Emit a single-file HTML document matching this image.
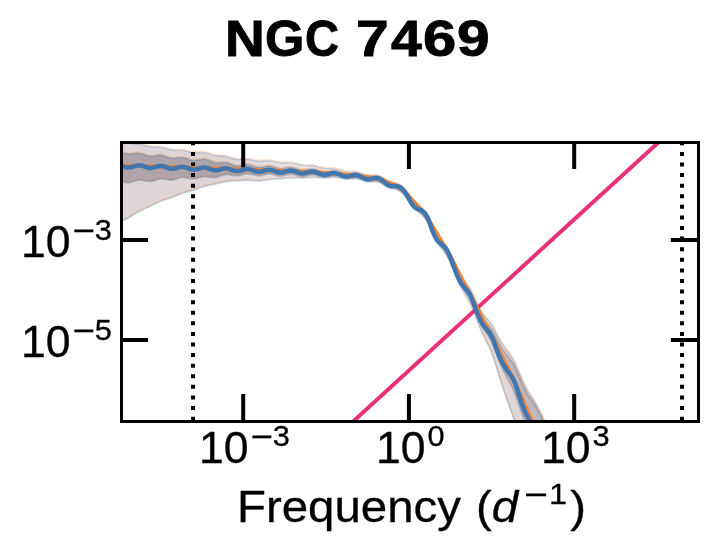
<!DOCTYPE html>
<html lang="en">
<head>
<meta charset="utf-8">
<title>NGC 7469</title>
<style>
html,body{margin:0;padding:0;background:#fff;}
body{width:717px;height:553px;position:relative;overflow:hidden;font-family:"Liberation Sans",sans-serif;color:#000;}
svg{position:absolute;left:0;top:0;display:block;}
.t{position:absolute;white-space:nowrap;line-height:1;transform-origin:0 0;will-change:transform;}
.title{left:0;top:13.5px;width:717px;height:51px;font-size:50.4px;font-weight:bold;-webkit-text-stroke:0.9px #000;}
.title span{position:absolute;top:0;transform-origin:0 0;}
.tick{font-size:43.7px;transform:scaleX(1.02);-webkit-text-stroke:0.3px #000;}
sup{font-size:30.1px;position:relative;vertical-align:baseline;line-height:0;}
.tick sup{top:-17px;margin-left:2px;}
.tick .m{margin-right:4.2px;}
.m{display:inline-block;position:relative;top:0.9px;transform:scaleX(1.22);transform-origin:0 50%;margin-right:5px;-webkit-text-stroke:0.6px #000;}
.xl{left:237.2px;top:485.1px;font-size:43.7px;transform:scaleX(1.085);word-spacing:1.7px;-webkit-text-stroke:0.3px #000;}
.xl sup{top:-18.3px;margin-left:5.8px;margin-right:2.8px;}
</style>
</head>
<body>
<svg width="717" height="553" viewBox="0 0 717 553">
<defs><clipPath id="ax"><rect x="121.5" y="142.5" width="577.0" height="279.0"/></clipPath>
<linearGradient id="go" gradientUnits="userSpaceOnUse" x1="0" y1="0" x2="717" y2="0"><stop offset="0.0000" stop-color="#ded6d6" stop-opacity="1.00"/><stop offset="0.3278" stop-color="#ded6d6" stop-opacity="1.00"/><stop offset="0.4045" stop-color="#ded6d6" stop-opacity="0.60"/><stop offset="0.4881" stop-color="#ded6d6" stop-opacity="0.40"/><stop offset="0.6137" stop-color="#ded6d6" stop-opacity="0.40"/><stop offset="0.6834" stop-color="#ded6d6" stop-opacity="0.85"/><stop offset="0.7183" stop-color="#ded6d6" stop-opacity="1.00"/><stop offset="1.0000" stop-color="#ded6d6" stop-opacity="1.00"/></linearGradient><linearGradient id="gi" gradientUnits="userSpaceOnUse" x1="0" y1="0" x2="717" y2="0"><stop offset="0.0000" stop-color="#aea4a9" stop-opacity="1.00"/><stop offset="0.3278" stop-color="#aea4a9" stop-opacity="1.00"/><stop offset="0.4045" stop-color="#aea4a9" stop-opacity="0.65"/><stop offset="0.4881" stop-color="#aea4a9" stop-opacity="0.45"/><stop offset="0.6137" stop-color="#aea4a9" stop-opacity="0.45"/><stop offset="0.6834" stop-color="#aea4a9" stop-opacity="0.55"/><stop offset="0.7183" stop-color="#aea4a9" stop-opacity="0.60"/><stop offset="1.0000" stop-color="#aea4a9" stop-opacity="0.60"/></linearGradient>
<path id="e1" d="M100.0 136.1 L100.8 136.4 L101.5 136.6 L102.2 136.8 L103.0 137.1 L103.8 137.3 L104.5 137.5 L105.2 137.7 L106.0 137.8 L106.8 138.0 L107.5 138.1 L108.2 138.2 L109.0 138.2 L109.8 138.3 L110.5 138.3 L111.2 138.4 L112.0 138.4 L112.8 138.4 L113.5 138.5 L114.2 138.5 L115.0 138.6 L115.8 138.7 L116.5 138.8 L117.2 138.9 L118.0 139.1 L118.8 139.3 L119.5 139.5 L120.2 139.7 L121.0 140.0 L121.8 140.3 L122.5 140.6 L123.2 140.9 L124.0 141.2 L124.8 141.5 L125.5 141.8 L126.2 142.0 L127.0 142.3 L127.8 142.5 L128.5 142.8 L129.2 143.0 L130.0 143.1 L130.8 143.3 L131.5 143.4 L132.2 143.5 L133.0 143.5 L133.8 143.6 L134.5 143.7 L135.2 143.7 L136.0 143.8 L136.8 143.8 L137.5 143.9 L138.2 144.0 L139.0 144.1 L139.8 144.2 L140.5 144.3 L141.2 144.5 L142.0 144.7 L142.8 144.9 L143.5 145.1 L144.2 145.3 L145.0 145.5 L145.8 145.7 L146.5 146.0 L147.2 146.1 L148.0 146.3 L148.8 146.5 L149.5 146.6 L150.2 146.7 L151.0 146.8 L151.8 146.9 L152.5 146.9 L153.2 147.0 L154.0 147.0 L154.8 147.0 L155.5 147.0 L156.2 147.0 L157.0 147.0 L157.8 147.0 L158.5 147.0 L159.2 147.1 L160.0 147.2 L160.8 147.3 L161.5 147.4 L162.2 147.5 L163.0 147.7 L163.8 147.9 L164.5 148.1 L165.2 148.3 L166.0 148.6 L166.8 148.8 L167.5 149.0 L168.2 149.2 L169.0 149.4 L169.8 149.6 L170.5 149.8 L171.2 149.9 L172.0 150.0 L172.8 150.1 L173.5 150.2 L174.2 150.2 L175.0 150.2 L175.8 150.2 L176.5 150.2 L177.2 150.2 L178.0 150.2 L178.8 150.2 L179.5 150.2 L180.2 150.2 L181.0 150.2 L181.8 150.3 L182.5 150.3 L183.2 150.4 L184.0 150.6 L184.8 150.7 L185.5 150.9 L186.2 151.0 L187.0 151.2 L187.8 151.4 L188.5 151.6 L189.2 151.8 L190.0 152.0 L190.8 152.2 L191.5 152.3 L192.2 152.5 L193.0 152.6 L193.8 152.7 L194.5 152.7 L195.2 152.7 L196.0 152.7 L196.8 152.7 L197.5 152.7 L198.2 152.6 L199.0 152.6 L199.8 152.5 L200.5 152.5 L201.2 152.4 L202.0 152.4 L202.8 152.4 L203.5 152.5 L204.2 152.5 L205.0 152.6 L205.8 152.8 L206.5 152.9 L207.2 153.1 L208.0 153.3 L208.8 153.5 L209.5 153.8 L210.2 154.0 L211.0 154.3 L211.8 154.5 L212.5 154.8 L213.2 155.0 L214.0 155.2 L214.8 155.4 L215.5 155.5 L216.2 155.6 L217.0 155.7 L217.8 155.8 L218.5 155.9 L219.2 155.9 L220.0 155.9 L220.8 156.0 L221.5 156.0 L222.2 156.0 L223.0 156.0 L223.8 156.1 L224.5 156.2 L225.2 156.3 L226.0 156.4 L226.8 156.6 L227.5 156.8 L228.2 157.0 L229.0 157.2 L229.8 157.4 L230.5 157.7 L231.2 157.9 L232.0 158.2 L232.8 158.4 L233.5 158.7 L234.2 158.9 L235.0 159.0 L235.8 159.2 L236.5 159.3 L237.2 159.4 L238.0 159.5 L238.8 159.6 L239.5 159.6 L240.2 159.6 L241.0 159.5 L241.8 159.5 L242.5 159.4 L243.2 159.4 L244.0 159.3 L244.8 159.3 L245.5 159.3 L246.2 159.3 L247.0 159.3 L247.8 159.3 L248.5 159.4 L249.2 159.5 L250.0 159.6 L250.8 159.8 L251.5 159.9 L252.2 160.1 L253.0 160.2 L253.8 160.4 L254.5 160.6 L255.2 160.7 L256.0 160.9 L256.8 161.0 L257.5 161.1 L258.2 161.2 L259.0 161.2 L259.8 161.2 L260.5 161.2 L261.2 161.2 L262.0 161.2 L262.8 161.1 L263.5 161.1 L264.2 161.0 L265.0 160.9 L265.8 160.9 L266.5 160.8 L267.2 160.8 L268.0 160.8 L268.8 160.8 L269.5 160.9 L270.2 160.9 L271.0 161.0 L271.8 161.1 L272.5 161.3 L273.2 161.4 L274.0 161.6 L274.8 161.8 L275.5 161.9 L276.2 162.1 L277.0 162.3 L277.8 162.4 L278.5 162.6 L279.2 162.7 L280.0 162.8 L280.8 162.8 L281.5 162.9 L282.2 162.9 L283.0 162.9 L283.8 162.9 L284.5 162.8 L285.2 162.8 L286.0 162.8 L286.8 162.7 L287.5 162.7 L288.2 162.7 L289.0 162.7 L289.8 162.7 L290.5 162.8 L291.2 162.8 L292.0 162.9 L292.8 163.1 L293.5 163.2 L294.2 163.4 L295.0 163.6 L295.8 163.8 L296.5 164.0 L297.2 164.2 L298.0 164.4 L298.8 164.6 L299.5 164.8 L300.2 165.0 L301.0 165.1 L301.8 165.2 L302.5 165.3 L303.2 165.4 L304.0 165.5 L304.8 165.5 L305.5 165.5 L306.2 165.5 L307.0 165.5 L307.8 165.5 L308.5 165.5 L309.2 165.4 L310.0 165.5 L310.8 165.5 L311.5 165.5 L312.2 165.6 L313.0 165.7 L313.8 165.8 L314.5 166.0 L315.2 166.1 L316.0 166.3 L316.8 166.5 L317.5 166.7 L318.2 167.0 L319.0 167.2 L319.8 167.4 L320.5 167.6 L321.2 167.8 L322.0 168.0 L322.8 168.2 L323.5 168.3 L324.2 168.4 L325.0 168.5 L325.8 168.6 L326.5 168.6 L327.2 168.6 L328.0 168.6 L328.8 168.6 L329.5 168.6 L330.2 168.7 L331.0 168.7 L331.8 168.7 L332.5 168.7 L333.2 168.8 L334.0 168.9 L334.8 169.0 L335.5 169.1 L336.2 169.3 L337.0 169.5 L337.8 169.7 L338.5 169.9 L339.2 170.1 L340.0 170.3 L340.8 170.6 L341.5 170.8 L342.2 171.0 L343.0 171.2 L343.8 171.4 L344.5 171.6 L345.2 171.7 L346.0 171.8 L346.8 171.9 L347.5 172.0 L348.2 172.0 L349.0 172.0 L349.8 172.0 L350.5 172.0 L351.2 172.0 L352.0 172.0 L352.8 171.9 L353.5 171.9 L354.2 172.0 L355.0 172.0 L355.8 172.1 L356.5 172.2 L357.2 172.3 L358.0 172.5 L358.8 172.7 L359.5 172.9 L360.2 173.2 L361.0 173.5 L361.8 173.7 L362.5 174.0 L363.2 174.2 L364.0 174.5 L364.8 174.7 L365.5 175.0 L366.2 175.1 L367.0 175.3 L367.8 175.4 L368.5 175.5 L369.2 175.6 L370.0 175.6 L370.8 175.6 L371.5 175.6 L372.2 175.6 L373.0 175.6 L373.8 175.6 L374.5 175.6 L375.2 175.6 L376.0 175.7 L376.8 175.8 L377.5 175.9 L378.2 176.1 L379.0 176.4 L379.8 176.7 L380.5 177.0 L381.2 177.4 L382.0 177.8 L382.8 178.2 L383.5 178.7 L384.2 179.1 L385.0 179.6 L385.8 180.0 L386.5 180.4 L387.2 180.8 L388.0 181.2 L388.8 181.5 L389.5 181.8 L390.2 182.1 L391.0 182.3 L391.8 182.5 L392.5 182.7 L393.2 182.9 L394.0 183.1 L394.8 183.3 L395.5 183.5 L396.2 183.7 L397.0 184.0 L397.8 184.3 L398.5 184.6 L399.2 185.0 L400.0 185.5 L400.8 186.1 L401.5 186.7 L402.2 187.4 L403.0 188.1 L403.8 188.9 L404.5 189.7 L405.2 190.6 L406.0 191.6 L406.8 192.6 L407.5 193.6 L408.2 194.6 L409.0 195.7 L409.8 196.8 L410.5 197.9 L411.2 198.9 L412.0 199.9 L412.8 200.8 L413.5 201.7 L414.2 202.5 L415.0 203.2 L415.8 203.9 L416.5 204.5 L417.2 205.1 L418.0 205.7 L418.8 206.3 L419.5 206.9 L420.2 207.5 L421.0 208.1 L421.8 208.8 L422.5 209.5 L423.2 210.3 L424.0 211.2 L424.8 212.1 L425.5 213.1 L426.2 214.2 L427.0 215.4 L427.8 216.7 L428.5 218.1 L429.2 219.6 L430.0 221.2 L430.8 222.9 L431.5 224.5 L432.2 226.1 L433.0 227.7 L433.8 229.2 L434.5 230.6 L435.2 231.9 L436.0 233.2 L436.8 234.3 L437.5 235.4 L438.2 236.5 L439.0 237.5 L439.8 238.4 L440.5 239.3 L441.2 240.2 L442.0 241.1 L442.8 242.0 L443.5 242.9 L444.2 243.8 L445.0 244.8 L445.8 245.8 L446.5 246.9 L447.2 248.2 L448.0 249.5 L448.8 250.9 L449.5 252.3 L450.2 253.9 L451.0 255.5 L451.8 257.1 L452.5 258.7 L453.2 260.4 L454.0 262.1 L454.8 263.8 L455.5 265.4 L456.2 267.1 L457.0 268.7 L457.8 270.2 L458.5 271.7 L459.2 273.1 L460.0 274.4 L460.8 275.7 L461.5 276.9 L462.2 278.1 L463.0 279.2 L463.8 280.3 L464.5 281.3 L465.2 282.4 L466.0 283.4 L466.8 284.4 L467.5 285.4 L468.2 286.5 L469.0 287.6 L469.8 288.8 L470.5 290.1 L471.2 291.5 L472.0 293.0 L472.8 294.5 L473.5 296.1 L474.2 297.7 L475.0 299.3 L475.8 300.9 L476.5 302.4 L477.2 303.9 L478.0 305.4 L478.8 306.8 L479.5 308.2 L480.2 309.5 L481.0 310.8 L481.8 312.0 L482.5 313.2 L483.2 314.3 L484.0 315.3 L484.8 316.3 L485.5 317.2 L486.2 318.1 L487.0 318.9 L487.8 319.8 L488.5 320.6 L489.2 321.5 L490.0 322.5 L490.8 323.5 L491.5 324.6 L492.2 325.7 L493.0 327.0 L493.8 328.4 L494.5 329.8 L495.2 331.3 L496.0 332.8 L496.8 334.2 L497.5 335.6 L498.2 337.0 L499.0 338.4 L499.8 339.7 L500.5 340.9 L501.2 342.2 L502.0 343.4 L502.8 344.5 L503.5 345.7 L504.2 346.8 L505.0 347.9 L505.8 348.9 L506.5 350.0 L507.2 351.0 L508.0 352.1 L508.8 353.1 L509.5 354.1 L510.2 355.2 L511.0 356.2 L511.8 357.4 L512.5 358.5 L513.2 359.8 L514.0 361.2 L514.8 362.6 L515.5 364.2 L516.2 365.9 L517.0 367.7 L517.8 369.5 L518.5 371.3 L519.2 373.1 L520.0 374.9 L520.8 376.6 L521.5 378.3 L522.2 380.0 L523.0 381.6 L523.8 383.2 L524.5 384.8 L525.2 386.3 L526.0 387.7 L526.8 389.1 L527.5 390.5 L528.2 391.8 L529.0 393.0 L529.8 394.2 L530.5 395.4 L531.2 396.5 L532.0 397.7 L532.8 398.8 L533.5 400.0 L534.2 401.2 L535.0 402.5 L535.8 403.8 L536.5 405.1 L537.2 406.5 L538.0 407.9 L538.8 409.4 L539.5 410.9 L540.2 412.4 L541.0 413.9 L541.8 415.4 L542.5 416.9 L543.2 418.4 L544.0 419.9 L544.8 421.4 L545.5 423.0 L546.2 424.5 L547.0 426.1 L547.8 427.6 L548.5 429.2 L549.2 430.7 L550.0 432.3 L550.8 433.9 L551.5 435.5 L552.2 437.1 L553.0 438.6 L553.8 440.2 L554.5 441.9 L555.2 443.5 L556.0 445.1 L556.8 446.7 L557.5 448.3 L558.2 449.9 L559.0 451.6 L559.8 453.2 L560.5 454.8 L561.2 456.5 L562.0 458.1 L562.8 459.8 L563.5 461.4 L564.2 463.0 L565.0 464.7 L565.8 466.3 L566.5 467.9 L567.2 469.6 L568.0 471.2 L568.8 472.8 L569.5 474.4 L570.2 475.9 L571.0 477.5 L571.8 478.9 L572.5 480.4 L573.2 481.8 L574.0 483.2 L574.8 484.5 L575.5 485.8 L576.2 487.1 L577.0 488.4 L577.8 489.6 L578.5 490.7 L579.2 491.9"/>
<path id="e2" d="M100.0 226.3 L100.8 226.3 L101.5 226.2 L102.2 226.2 L103.0 226.2 L103.8 226.1 L104.5 226.0 L105.2 225.9 L106.0 225.7 L106.8 225.5 L107.5 225.4 L108.2 225.1 L109.0 224.9 L109.8 224.7 L110.5 224.4 L111.2 224.2 L112.0 223.9 L112.8 223.7 L113.5 223.4 L114.2 223.1 L115.0 222.9 L115.8 222.6 L116.5 222.3 L117.2 222.1 L118.0 221.8 L118.8 221.6 L119.5 221.3 L120.2 221.1 L121.0 220.9 L121.8 220.7 L122.5 220.4 L123.2 220.2 L124.0 220.0 L124.8 219.7 L125.5 219.4 L126.2 219.1 L127.0 218.7 L127.8 218.3 L128.5 217.9 L129.2 217.4 L130.0 217.0 L130.8 216.5 L131.5 216.0 L132.2 215.5 L133.0 215.0 L133.8 214.5 L134.5 214.0 L135.2 213.5 L136.0 213.1 L136.8 212.6 L137.5 212.2 L138.2 211.8 L139.0 211.4 L139.8 211.0 L140.5 210.6 L141.2 210.2 L142.0 209.9 L142.8 209.5 L143.5 209.2 L144.2 208.8 L145.0 208.5 L145.8 208.2 L146.5 207.8 L147.2 207.5 L148.0 207.2 L148.8 206.8 L149.5 206.5 L150.2 206.1 L151.0 205.7 L151.8 205.4 L152.5 205.0 L153.2 204.6 L154.0 204.3 L154.8 203.9 L155.5 203.5 L156.2 203.1 L157.0 202.8 L157.8 202.4 L158.5 202.1 L159.2 201.7 L160.0 201.4 L160.8 201.1 L161.5 200.8 L162.2 200.5 L163.0 200.2 L163.8 200.0 L164.5 199.7 L165.2 199.5 L166.0 199.3 L166.8 199.0 L167.5 198.8 L168.2 198.6 L169.0 198.3 L169.8 198.1 L170.5 197.8 L171.2 197.6 L172.0 197.3 L172.8 197.0 L173.5 196.7 L174.2 196.4 L175.0 196.1 L175.8 195.8 L176.5 195.5 L177.2 195.2 L178.0 194.9 L178.8 194.6 L179.5 194.3 L180.2 194.0 L181.0 193.7 L181.8 193.4 L182.5 193.2 L183.2 192.9 L184.0 192.7 L184.8 192.5 L185.5 192.2 L186.2 192.0 L187.0 191.8 L187.8 191.6 L188.5 191.4 L189.2 191.3 L190.0 191.1 L190.8 190.9 L191.5 190.6 L192.2 190.4 L193.0 190.2 L193.8 190.0 L194.5 189.7 L195.2 189.5 L196.0 189.2 L196.8 188.9 L197.5 188.6 L198.2 188.4 L199.0 188.1 L199.8 187.8 L200.5 187.5 L201.2 187.3 L202.0 187.0 L202.8 186.8 L203.5 186.6 L204.2 186.3 L205.0 186.1 L205.8 185.9 L206.5 185.8 L207.2 185.6 L208.0 185.4 L208.8 185.3 L209.5 185.1 L210.2 185.0 L211.0 184.8 L211.8 184.7 L212.5 184.5 L213.2 184.4 L214.0 184.2 L214.8 184.1 L215.5 183.9 L216.2 183.7 L217.0 183.5 L217.8 183.4 L218.5 183.2 L219.2 183.0 L220.0 182.8 L220.8 182.6 L221.5 182.5 L222.2 182.3 L223.0 182.1 L223.8 182.0 L224.5 181.8 L225.2 181.7 L226.0 181.6 L226.8 181.5 L227.5 181.4 L228.2 181.3 L229.0 181.2 L229.8 181.1 L230.5 181.1 L231.2 181.0 L232.0 181.0 L232.8 181.0 L233.5 180.9 L234.2 180.9 L235.0 180.9 L235.8 180.8 L236.5 180.8 L237.2 180.7 L238.0 180.7 L238.8 180.6 L239.5 180.6 L240.2 180.6 L241.0 180.5 L241.8 180.5 L242.5 180.4 L243.2 180.4 L244.0 180.3 L244.8 180.3 L245.5 180.3 L246.2 180.2 L247.0 180.2 L247.8 180.2 L248.5 180.3 L249.2 180.3 L250.0 180.3 L250.8 180.4 L251.5 180.4 L252.2 180.5 L253.0 180.6 L253.8 180.6 L254.5 180.7 L255.2 180.7 L256.0 180.8 L256.8 180.8 L257.5 180.8 L258.2 180.9 L259.0 180.8 L259.8 180.8 L260.5 180.8 L261.2 180.7 L262.0 180.6 L262.8 180.5 L263.5 180.4 L264.2 180.3 L265.0 180.1 L265.8 180.0 L266.5 179.9 L267.2 179.8 L268.0 179.6 L268.8 179.5 L269.5 179.4 L270.2 179.3 L271.0 179.3 L271.8 179.2 L272.5 179.1 L273.2 179.1 L274.0 179.0 L274.8 179.0 L275.5 179.0 L276.2 178.9 L277.0 178.9 L277.8 178.9 L278.5 178.8 L279.2 178.8 L280.0 178.8 L280.8 178.7 L281.5 178.7 L282.2 178.6 L283.0 178.5 L283.8 178.4 L284.5 178.4 L285.2 178.3 L286.0 178.2 L286.8 178.1 L287.5 178.0 L288.2 178.0 L289.0 177.9 L289.8 177.8 L290.5 177.8 L291.2 177.8 L292.0 177.7 L292.8 177.7 L293.5 177.7 L294.2 177.7 L295.0 177.8 L295.8 177.8 L296.5 177.8 L297.2 177.9 L298.0 177.9 L298.8 177.9 L299.5 177.9 L300.2 178.0 L301.0 178.0 L301.8 178.0 L302.5 177.9 L303.2 177.9 L304.0 177.9 L304.8 177.8 L305.5 177.8 L306.2 177.7 L307.0 177.7 L307.8 177.6 L308.5 177.6 L309.2 177.5 L310.0 177.5 L310.8 177.4 L311.5 177.4 L312.2 177.4 L313.0 177.4 L313.8 177.4 L314.5 177.4 L315.2 177.4 L316.0 177.5 L316.8 177.5 L317.5 177.6 L318.2 177.6 L319.0 177.7 L319.8 177.7 L320.5 177.7 L321.2 177.8 L322.0 177.8 L322.8 177.8 L323.5 177.8 L324.2 177.8 L325.0 177.8 L325.8 177.8 L326.5 177.7 L327.2 177.7 L328.0 177.7 L328.8 177.6 L329.5 177.6 L330.2 177.5 L331.0 177.5 L331.8 177.4 L332.5 177.4 L333.2 177.4 L334.0 177.4 L334.8 177.4 L335.5 177.4 L336.2 177.4 L337.0 177.5 L337.8 177.6 L338.5 177.7 L339.2 177.8 L340.0 177.9 L340.8 178.0 L341.5 178.1 L342.2 178.2 L343.0 178.3 L343.8 178.5 L344.5 178.6 L345.2 178.6 L346.0 178.7 L346.8 178.8 L347.5 178.8 L348.2 178.8 L349.0 178.8 L349.8 178.8 L350.5 178.8 L351.2 178.8 L352.0 178.8 L352.8 178.7 L353.5 178.7 L354.2 178.7 L355.0 178.7 L355.8 178.8 L356.5 178.8 L357.2 178.9 L358.0 179.1 L358.8 179.2 L359.5 179.4 L360.2 179.6 L361.0 179.9 L361.8 180.1 L362.5 180.3 L363.2 180.6 L364.0 180.8 L364.8 181.0 L365.5 181.2 L366.2 181.4 L367.0 181.5 L367.8 181.6 L368.5 181.7 L369.2 181.7 L370.0 181.7 L370.8 181.7 L371.5 181.7 L372.2 181.7 L373.0 181.6 L373.8 181.6 L374.5 181.6 L375.2 181.7 L376.0 181.7 L376.8 181.8 L377.5 181.9 L378.2 182.1 L379.0 182.4 L379.8 182.7 L380.5 183.0 L381.2 183.4 L382.0 183.8 L382.8 184.2 L383.5 184.7 L384.2 185.1 L385.0 185.6 L385.8 186.0 L386.5 186.4 L387.2 186.8 L388.0 187.2 L388.8 187.5 L389.5 187.8 L390.2 188.1 L391.0 188.3 L391.8 188.5 L392.5 188.7 L393.2 188.9 L394.0 189.1 L394.8 189.3 L395.5 189.5 L396.2 189.7 L397.0 190.0 L397.8 190.3 L398.5 190.6 L399.2 191.0 L400.0 191.5 L400.8 192.1 L401.5 192.7 L402.2 193.4 L403.0 194.1 L403.8 194.9 L404.5 195.7 L405.2 196.6 L406.0 197.6 L406.8 198.6 L407.5 199.6 L408.2 200.6 L409.0 201.7 L409.8 202.8 L410.5 203.9 L411.2 204.9 L412.0 205.9 L412.8 206.8 L413.5 207.7 L414.2 208.5 L415.0 209.2 L415.8 209.9 L416.5 210.5 L417.2 211.1 L418.0 211.7 L418.8 212.3 L419.5 212.9 L420.2 213.5 L421.0 214.1 L421.8 214.8 L422.5 215.5 L423.2 216.4 L424.0 217.2 L424.8 218.2 L425.5 219.3 L426.2 220.4 L427.0 221.7 L427.8 223.0 L428.5 224.5 L429.2 226.0 L430.0 227.7 L430.8 229.4 L431.5 231.1 L432.2 232.8 L433.0 234.4 L433.8 236.0 L434.5 237.5 L435.2 238.9 L436.0 240.2 L436.8 241.5 L437.5 242.7 L438.2 243.8 L439.0 244.9 L439.8 245.9 L440.5 247.0 L441.2 248.0 L442.0 248.9 L442.8 249.9 L443.5 250.9 L444.2 252.0 L445.0 253.0 L445.8 254.2 L446.5 255.4 L447.2 256.7 L448.0 258.2 L448.8 259.7 L449.5 261.3 L450.2 262.9 L451.0 264.6 L451.8 266.4 L452.5 268.1 L453.2 270.0 L454.0 271.8 L454.8 273.6 L455.5 275.4 L456.2 277.2 L457.0 279.0 L457.8 280.7 L458.5 282.3 L459.2 283.9 L460.0 285.4 L460.8 286.9 L461.5 288.3 L462.2 289.6 L463.0 291.0 L463.8 292.3 L464.5 293.6 L465.2 294.8 L466.0 296.1 L466.8 297.3 L467.5 298.6 L468.2 299.9 L469.0 301.3 L469.8 302.8 L470.5 304.3 L471.2 306.0 L472.0 307.8 L472.8 309.6 L473.5 311.5 L474.2 313.4 L475.0 315.4 L475.8 317.3 L476.5 319.3 L477.2 321.2 L478.0 323.0 L478.8 324.8 L479.5 326.6 L480.2 328.4 L481.0 330.1 L481.8 331.8 L482.5 333.5 L483.2 335.1 L484.0 336.7 L484.8 338.2 L485.5 339.7 L486.2 341.2 L487.0 342.7 L487.8 344.2 L488.5 345.7 L489.2 347.3 L490.0 348.9 L490.8 350.6 L491.5 352.4 L492.2 354.4 L493.0 356.5 L493.8 358.7 L494.5 361.1 L495.2 363.5 L496.0 365.9 L496.8 368.4 L497.5 370.8 L498.2 373.2 L499.0 375.7 L499.8 378.0 L500.5 380.4 L501.2 382.7 L502.0 385.1 L502.8 387.3 L503.5 389.6 L504.2 391.8 L505.0 394.0 L505.8 396.2 L506.5 398.3 L507.2 400.5 L508.0 402.6 L508.8 404.7 L509.5 406.8 L510.2 408.9 L511.0 411.0 L511.8 413.1 L512.5 415.3 L513.2 417.5 L514.0 419.8 L514.8 422.3 L515.5 424.8 L516.2 427.4 L517.0 430.1 L517.8 432.8 L518.5 435.6 L519.2 438.3 L520.0 441.0 L520.8 443.6 L521.5 446.3 L522.2 448.9 L523.0 451.4 L523.8 453.9 L524.5 456.4 L525.2 458.8 L526.0 461.2 L526.8 463.5 L527.5 465.7 L528.2 467.9 L529.0 470.0 L529.8 472.0 L530.5 474.0 L531.2 476.0 L532.0 478.0 L532.8 479.9 L533.5 481.9 L534.2 483.9 L535.0 485.9 L535.8 488.0 L536.5 490.1 L537.2 492.2 L538.0 494.3 L538.8 496.4 L539.5 498.6 L540.2 500.7 L541.0 502.8 L541.8 505.0 L542.5 507.1 L543.2 509.2 L544.0 511.4 L544.8 513.5 L545.5 515.7 L546.2 517.8 L547.0 519.9 L547.8 522.1 L548.5 524.3 L549.2 526.4 L550.0 528.6 L550.8 530.7 L551.5 532.9 L552.2 535.1 L553.0 537.2 L553.8 539.4 L554.5 541.6 L555.2 543.8 L556.0 546.0 L556.8 548.1 L557.5 550.3 L558.2 552.5 L559.0 554.7 L559.8 556.9 L560.5 559.1 L561.2 561.3 L562.0 563.4 L562.8 565.6 L563.5 567.8 L564.2 569.9 L565.0 572.1 L565.8 574.3 L566.5 576.4 L567.2 578.5 L568.0 580.7 L568.8 582.8 L569.5 584.8 L570.2 586.9 L571.0 588.9 L571.8 590.9 L572.5 592.8 L573.2 594.7 L574.0 596.5 L574.8 598.3 L575.5 600.1 L576.2 601.8 L577.0 603.5 L577.8 605.1 L578.5 606.7 L579.2 608.2"/>
<path id="e3" d="M100.0 151.4 L100.8 151.6 L101.5 151.9 L102.2 152.1 L103.0 152.3 L103.8 152.5 L104.5 152.6 L105.2 152.7 L106.0 152.8 L106.8 152.8 L107.5 152.8 L108.2 152.8 L109.0 152.7 L109.8 152.6 L110.5 152.4 L111.2 152.3 L112.0 152.1 L112.8 151.9 L113.5 151.7 L114.2 151.6 L115.0 151.5 L115.8 151.4 L116.5 151.4 L117.2 151.4 L118.0 151.4 L118.8 151.5 L119.5 151.6 L120.2 151.8 L121.0 152.0 L121.8 152.2 L122.5 152.5 L123.2 152.7 L124.0 153.0 L124.8 153.2 L125.5 153.4 L126.2 153.6 L127.0 153.7 L127.8 153.9 L128.5 153.9 L129.2 154.0 L130.0 154.0 L130.8 153.9 L131.5 153.8 L132.2 153.7 L133.0 153.6 L133.8 153.5 L134.5 153.3 L135.2 153.2 L136.0 153.1 L136.8 153.0 L137.5 153.0 L138.2 153.0 L139.0 153.1 L139.8 153.2 L140.5 153.3 L141.2 153.5 L142.0 153.7 L142.8 153.9 L143.5 154.2 L144.2 154.5 L145.0 154.8 L145.8 155.1 L146.5 155.3 L147.2 155.6 L148.0 155.8 L148.8 156.0 L149.5 156.1 L150.2 156.2 L151.0 156.2 L151.8 156.2 L152.5 156.2 L153.2 156.1 L154.0 156.0 L154.8 155.9 L155.5 155.7 L156.2 155.6 L157.0 155.4 L157.8 155.3 L158.5 155.2 L159.2 155.2 L160.0 155.2 L160.8 155.2 L161.5 155.3 L162.2 155.4 L163.0 155.5 L163.8 155.7 L164.5 156.0 L165.2 156.2 L166.0 156.5 L166.8 156.8 L167.5 157.1 L168.2 157.3 L169.0 157.6 L169.8 157.8 L170.5 157.9 L171.2 158.1 L172.0 158.2 L172.8 158.2 L173.5 158.2 L174.2 158.2 L175.0 158.1 L175.8 158.0 L176.5 157.9 L177.2 157.8 L178.0 157.7 L178.8 157.6 L179.5 157.5 L180.2 157.4 L181.0 157.4 L181.8 157.4 L182.5 157.5 L183.2 157.6 L184.0 157.7 L184.8 157.9 L185.5 158.1 L186.2 158.4 L187.0 158.6 L187.8 158.9 L188.5 159.2 L189.2 159.5 L190.0 159.7 L190.8 159.9 L191.5 160.1 L192.2 160.3 L193.0 160.4 L193.8 160.5 L194.5 160.5 L195.2 160.4 L196.0 160.4 L196.8 160.3 L197.5 160.1 L198.2 160.0 L199.0 159.8 L199.8 159.7 L200.5 159.5 L201.2 159.4 L202.0 159.3 L202.8 159.2 L203.5 159.2 L204.2 159.2 L205.0 159.3 L205.8 159.4 L206.5 159.6 L207.2 159.8 L208.0 160.1 L208.8 160.4 L209.5 160.7 L210.2 161.0 L211.0 161.3 L211.8 161.6 L212.5 161.9 L213.2 162.2 L214.0 162.4 L214.8 162.5 L215.5 162.7 L216.2 162.8 L217.0 162.8 L217.8 162.8 L218.5 162.8 L219.2 162.8 L220.0 162.7 L220.8 162.6 L221.5 162.5 L222.2 162.5 L223.0 162.4 L223.8 162.4 L224.5 162.4 L225.2 162.4 L226.0 162.5 L226.8 162.6 L227.5 162.8 L228.2 163.0 L229.0 163.2 L229.8 163.5 L230.5 163.8 L231.2 164.1 L232.0 164.4 L232.8 164.7 L233.5 165.0 L234.2 165.2 L235.0 165.5 L235.8 165.6 L236.5 165.8 L237.2 165.8 L238.0 165.9 L238.8 165.8 L239.5 165.8 L240.2 165.7 L241.0 165.6 L241.8 165.4 L242.5 165.3 L243.2 165.1 L244.0 165.0 L244.8 164.8 L245.5 164.8 L246.2 164.7 L247.0 164.7 L247.8 164.7 L248.5 164.8 L249.2 164.9 L250.0 165.1 L250.8 165.2 L251.5 165.5 L252.2 165.7 L253.0 166.0 L253.8 166.2 L254.5 166.5 L255.2 166.7 L256.0 166.9 L256.8 167.1 L257.5 167.2 L258.2 167.3 L259.0 167.3 L259.8 167.3 L260.5 167.3 L261.2 167.2 L262.0 167.1 L262.8 166.9 L263.5 166.8 L264.2 166.6 L265.0 166.5 L265.8 166.3 L266.5 166.2 L267.2 166.1 L268.0 166.0 L268.8 166.0 L269.5 166.0 L270.2 166.1 L271.0 166.2 L271.8 166.4 L272.5 166.6 L273.2 166.8 L274.0 167.0 L274.8 167.3 L275.5 167.5 L276.2 167.8 L277.0 168.0 L277.8 168.2 L278.5 168.4 L279.2 168.5 L280.0 168.6 L280.8 168.6 L281.5 168.6 L282.2 168.6 L283.0 168.5 L283.8 168.4 L284.5 168.2 L285.2 168.1 L286.0 167.9 L286.8 167.8 L287.5 167.6 L288.2 167.5 L289.0 167.4 L289.8 167.3 L290.5 167.3 L291.2 167.3 L292.0 167.4 L292.8 167.5 L293.5 167.7 L294.2 167.9 L295.0 168.1 L295.8 168.4 L296.5 168.6 L297.2 168.9 L298.0 169.1 L298.8 169.3 L299.5 169.6 L300.2 169.7 L301.0 169.9 L301.8 170.0 L302.5 170.0 L303.2 170.0 L304.0 170.0 L304.8 169.9 L305.5 169.8 L306.2 169.7 L307.0 169.5 L307.8 169.4 L308.5 169.2 L309.2 169.1 L310.0 169.0 L310.8 168.9 L311.5 168.9 L312.2 168.9 L313.0 168.9 L313.8 169.0 L314.5 169.1 L315.2 169.3 L316.0 169.5 L316.8 169.8 L317.5 170.0 L318.2 170.3 L319.0 170.6 L319.8 170.8 L320.5 171.1 L321.2 171.3 L322.0 171.5 L322.8 171.6 L323.5 171.8 L324.2 171.8 L325.0 171.8 L325.8 171.8 L326.5 171.8 L327.2 171.7 L328.0 171.5 L328.8 171.4 L329.5 171.3 L330.2 171.2 L331.0 171.0 L331.8 171.0 L332.5 170.9 L333.2 170.9 L334.0 170.9 L334.8 171.0 L335.5 171.1 L336.2 171.2 L337.0 171.4 L337.8 171.7 L338.5 171.9 L339.2 172.2 L340.0 172.4 L340.8 172.7 L341.5 172.9 L342.2 173.2 L343.0 173.4 L343.8 173.6 L344.5 173.7 L345.2 173.8 L346.0 173.9 L346.8 173.9 L347.5 173.9 L348.2 173.9 L349.0 173.8 L349.8 173.8 L350.5 173.7 L351.2 173.6 L352.0 173.5 L352.8 173.4 L353.5 173.4 L354.2 173.3 L355.0 173.3 L355.8 173.4 L356.5 173.4 L357.2 173.6 L358.0 173.7 L358.8 173.9 L359.5 174.2 L360.2 174.4 L361.0 174.7 L361.8 175.0 L362.5 175.2 L363.2 175.5 L364.0 175.8 L364.8 176.0 L365.5 176.2 L366.2 176.4 L367.0 176.5 L367.8 176.6 L368.5 176.7 L369.2 176.7 L370.0 176.7 L370.8 176.7 L371.5 176.6 L372.2 176.6 L373.0 176.5 L373.8 176.5 L374.5 176.4 L375.2 176.4 L376.0 176.5 L376.8 176.6 L377.5 176.7 L378.2 176.9 L379.0 177.1 L379.8 177.4 L380.5 177.8 L381.2 178.2 L382.0 178.6 L382.8 179.1 L383.5 179.6 L384.2 180.1 L385.0 180.6 L385.8 181.1 L386.5 181.5 L387.2 181.9 L388.0 182.3 L388.8 182.7 L389.5 182.9 L390.2 183.2 L391.0 183.4 L391.8 183.6 L392.5 183.7 L393.2 183.9 L394.0 184.0 L394.8 184.2 L395.5 184.4 L396.2 184.6 L397.0 184.8 L397.8 185.1 L398.5 185.4 L399.2 185.8 L400.0 186.3 L400.8 186.8 L401.5 187.4 L402.2 188.1 L403.0 188.8 L403.8 189.6 L404.5 190.5 L405.2 191.4 L406.0 192.4 L406.8 193.4 L407.5 194.5 L408.2 195.6 L409.0 196.7 L409.8 197.9 L410.5 199.0 L411.2 200.1 L412.0 201.1 L412.8 202.1 L413.5 202.9 L414.2 203.7 L415.0 204.5 L415.8 205.1 L416.5 205.7 L417.2 206.2 L418.0 206.8 L418.8 207.3 L419.5 207.8 L420.2 208.3 L421.0 208.9 L421.8 209.5 L422.5 210.2 L423.2 211.0 L424.0 211.8 L424.8 212.7 L425.5 213.8 L426.2 214.9 L427.0 216.1 L427.8 217.5 L428.5 219.0 L429.2 220.5 L430.0 222.2 L430.8 224.0 L431.5 225.7 L432.2 227.5 L433.0 229.2 L433.8 230.8 L434.5 232.2 L435.2 233.6 L436.0 234.9 L436.8 236.1 L437.5 237.2 L438.2 238.2 L439.0 239.2 L439.8 240.1 L440.5 241.0 L441.2 241.8 L442.0 242.7 L442.8 243.5 L443.5 244.4 L444.2 245.3 L445.0 246.3 L445.8 247.3 L446.5 248.4 L447.2 249.7 L448.0 251.0 L448.8 252.5 L449.5 254.0 L450.2 255.6 L451.0 257.3 L451.8 259.0 L452.5 260.8 L453.2 262.6 L454.0 264.3 L454.8 266.1 L455.5 267.9 L456.2 269.6 L457.0 271.3 L457.8 272.9 L458.5 274.5 L459.2 275.9 L460.0 277.3 L460.8 278.6 L461.5 279.9 L462.2 281.1 L463.0 282.2 L463.8 283.3 L464.5 284.4 L465.2 285.4 L466.0 286.4 L466.8 287.5 L467.5 288.5 L468.2 289.6 L469.0 290.8 L469.8 292.0 L470.5 293.4 L471.2 294.8 L472.0 296.4 L472.8 298.1 L473.5 299.8 L474.2 301.5 L475.0 303.2 L475.8 305.0 L476.5 306.7 L477.2 308.3 L478.0 309.9 L478.8 311.4 L479.5 312.9 L480.2 314.3 L481.0 315.7 L481.8 317.0 L482.5 318.2 L483.2 319.3 L484.0 320.3 L484.8 321.3 L485.5 322.2 L486.2 323.0 L487.0 323.9 L487.8 324.7 L488.5 325.5 L489.2 326.4 L490.0 327.3 L490.8 328.3 L491.5 329.4 L492.2 330.6 L493.0 331.9 L493.8 333.4 L494.5 334.9 L495.2 336.4 L496.0 337.9 L496.8 339.4 L497.5 340.9 L498.2 342.3 L499.0 343.7 L499.8 345.0 L500.5 346.3 L501.2 347.5 L502.0 348.7 L502.8 349.8 L503.5 350.9 L504.2 352.0 L505.0 353.0 L505.8 354.0 L506.5 355.1 L507.2 356.0 L508.0 357.0 L508.8 358.0 L509.5 358.9 L510.2 359.9 L511.0 360.8 L511.8 361.9 L512.5 363.0 L513.2 364.2 L514.0 365.5 L514.8 366.9 L515.5 368.5 L516.2 370.2 L517.0 372.0 L517.8 373.8 L518.5 375.6 L519.2 377.4 L520.0 379.2 L520.8 381.0 L521.5 382.7 L522.2 384.3 L523.0 385.9 L523.8 387.5 L524.5 389.0 L525.2 390.5 L526.0 391.9 L526.8 393.2 L527.5 394.5 L528.2 395.7 L529.0 396.9 L529.8 398.0 L530.5 399.0 L531.2 400.1 L532.0 401.1 L532.8 402.2 L533.5 403.3 L534.2 404.4 L535.0 405.6 L535.8 406.9 L536.5 408.2 L537.2 409.6 L538.0 411.0 L538.8 412.5 L539.5 413.9 L540.2 415.4 L541.0 416.9 L541.8 418.4 L542.5 419.9 L543.2 421.4 L544.0 422.9 L544.8 424.4 L545.5 426.0 L546.2 427.5 L547.0 429.0 L547.8 430.6 L548.5 432.1 L549.2 433.7 L550.0 435.2 L550.8 436.8 L551.5 438.4 L552.2 440.0 L553.0 441.6 L553.8 443.1 L554.5 444.7 L555.2 446.3 L556.0 448.0 L556.8 449.6 L557.5 451.2 L558.2 452.8 L559.0 454.4 L559.8 456.1 L560.5 457.7 L561.2 459.3 L562.0 461.0 L562.8 462.6 L563.5 464.2 L564.2 465.9 L565.0 467.5 L565.8 469.1 L566.5 470.8 L567.2 472.4 L568.0 474.0 L568.8 475.6 L569.5 477.2 L570.2 478.8 L571.0 480.3 L571.8 481.8 L572.5 483.3 L573.2 484.7 L574.0 486.2 L574.8 487.5 L575.5 488.9 L576.2 490.2 L577.0 491.5 L577.8 492.8 L578.5 494.0 L579.2 495.2"/>
<path id="e4" d="M100.0 181.9 L100.8 182.1 L101.5 182.3 L102.2 182.5 L103.0 182.7 L103.8 182.9 L104.5 183.0 L105.2 183.1 L106.0 183.1 L106.8 183.1 L107.5 183.1 L108.2 183.0 L109.0 182.9 L109.8 182.7 L110.5 182.5 L111.2 182.3 L112.0 182.1 L112.8 181.9 L113.5 181.7 L114.2 181.5 L115.0 181.3 L115.8 181.1 L116.5 181.1 L117.2 181.0 L118.0 181.0 L118.8 181.0 L119.5 181.1 L120.2 181.2 L121.0 181.3 L121.8 181.5 L122.5 181.7 L123.2 181.9 L124.0 182.1 L124.8 182.2 L125.5 182.4 L126.2 182.5 L127.0 182.5 L127.8 182.6 L128.5 182.6 L129.2 182.5 L130.0 182.4 L130.8 182.2 L131.5 182.0 L132.2 181.8 L133.0 181.6 L133.8 181.3 L134.5 181.1 L135.2 180.8 L136.0 180.6 L136.8 180.4 L137.5 180.3 L138.2 180.1 L139.0 180.0 L139.8 180.0 L140.5 180.0 L141.2 180.1 L142.0 180.1 L142.8 180.3 L143.5 180.4 L144.2 180.6 L145.0 180.7 L145.8 180.9 L146.5 181.0 L147.2 181.1 L148.0 181.2 L148.8 181.3 L149.5 181.3 L150.2 181.3 L151.0 181.2 L151.8 181.1 L152.5 180.9 L153.2 180.7 L154.0 180.5 L154.8 180.3 L155.5 180.1 L156.2 179.8 L157.0 179.6 L157.8 179.3 L158.5 179.2 L159.2 179.0 L160.0 178.9 L160.8 178.8 L161.5 178.8 L162.2 178.8 L163.0 178.8 L163.8 178.9 L164.5 179.0 L165.2 179.1 L166.0 179.3 L166.8 179.4 L167.5 179.6 L168.2 179.7 L169.0 179.8 L169.8 179.9 L170.5 179.9 L171.2 179.9 L172.0 179.9 L172.8 179.8 L173.5 179.7 L174.2 179.5 L175.0 179.3 L175.8 179.0 L176.5 178.8 L177.2 178.5 L178.0 178.3 L178.8 178.0 L179.5 177.8 L180.2 177.6 L181.0 177.5 L181.8 177.3 L182.5 177.3 L183.2 177.2 L184.0 177.3 L184.8 177.3 L185.5 177.4 L186.2 177.5 L187.0 177.7 L187.8 177.9 L188.5 178.0 L189.2 178.2 L190.0 178.4 L190.8 178.5 L191.5 178.6 L192.2 178.7 L193.0 178.7 L193.8 178.7 L194.5 178.6 L195.2 178.5 L196.0 178.4 L196.8 178.2 L197.5 178.1 L198.2 177.9 L199.0 177.6 L199.8 177.4 L200.5 177.2 L201.2 177.0 L202.0 176.9 L202.8 176.8 L203.5 176.7 L204.2 176.6 L205.0 176.6 L205.8 176.6 L206.5 176.7 L207.2 176.8 L208.0 176.9 L208.8 177.0 L209.5 177.1 L210.2 177.2 L211.0 177.3 L211.8 177.4 L212.5 177.5 L213.2 177.5 L214.0 177.5 L214.8 177.4 L215.5 177.3 L216.2 177.2 L217.0 177.0 L217.8 176.8 L218.5 176.5 L219.2 176.3 L220.0 176.0 L220.8 175.7 L221.5 175.5 L222.2 175.2 L223.0 175.0 L223.8 174.8 L224.5 174.6 L225.2 174.5 L226.0 174.4 L226.8 174.3 L227.5 174.3 L228.2 174.4 L229.0 174.5 L229.8 174.6 L230.5 174.7 L231.2 174.9 L232.0 175.0 L232.8 175.2 L233.5 175.3 L234.2 175.4 L235.0 175.5 L235.8 175.6 L236.5 175.6 L237.2 175.5 L238.0 175.5 L238.8 175.4 L239.5 175.2 L240.2 175.1 L241.0 174.9 L241.8 174.7 L242.5 174.5 L243.2 174.2 L244.0 174.1 L244.8 173.9 L245.5 173.7 L246.2 173.6 L247.0 173.6 L247.8 173.5 L248.5 173.6 L249.2 173.6 L250.0 173.7 L250.8 173.9 L251.5 174.1 L252.2 174.3 L253.0 174.5 L253.8 174.7 L254.5 174.9 L255.2 175.1 L256.0 175.3 L256.8 175.4 L257.5 175.5 L258.2 175.6 L259.0 175.6 L259.8 175.5 L260.5 175.5 L261.2 175.4 L262.0 175.2 L262.8 175.0 L263.5 174.9 L264.2 174.7 L265.0 174.5 L265.8 174.3 L266.5 174.1 L267.2 174.0 L268.0 173.9 L268.8 173.9 L269.5 173.9 L270.2 173.9 L271.0 174.0 L271.8 174.1 L272.5 174.3 L273.2 174.5 L274.0 174.7 L274.8 174.9 L275.5 175.1 L276.2 175.3 L277.0 175.5 L277.8 175.7 L278.5 175.8 L279.2 175.9 L280.0 176.0 L280.8 176.0 L281.5 176.0 L282.2 175.9 L283.0 175.8 L283.8 175.6 L284.5 175.4 L285.2 175.2 L286.0 175.1 L286.8 174.9 L287.5 174.7 L288.2 174.5 L289.0 174.4 L289.8 174.3 L290.5 174.3 L291.2 174.3 L292.0 174.3 L292.8 174.4 L293.5 174.5 L294.2 174.7 L295.0 174.9 L295.8 175.1 L296.5 175.3 L297.2 175.5 L298.0 175.8 L298.8 176.0 L299.5 176.1 L300.2 176.3 L301.0 176.4 L301.8 176.5 L302.5 176.5 L303.2 176.4 L304.0 176.4 L304.8 176.3 L305.5 176.1 L306.2 176.0 L307.0 175.8 L307.8 175.6 L308.5 175.4 L309.2 175.3 L310.0 175.1 L310.8 175.0 L311.5 175.0 L312.2 174.9 L313.0 174.9 L313.8 175.0 L314.5 175.1 L315.2 175.2 L316.0 175.4 L316.8 175.6 L317.5 175.8 L318.2 176.1 L319.0 176.3 L319.8 176.5 L320.5 176.7 L321.2 176.9 L322.0 177.1 L322.8 177.2 L323.5 177.2 L324.2 177.2 L325.0 177.2 L325.8 177.1 L326.5 177.0 L327.2 176.9 L328.0 176.7 L328.8 176.6 L329.5 176.4 L330.2 176.2 L331.0 176.1 L331.8 175.9 L332.5 175.8 L333.2 175.8 L334.0 175.8 L334.8 175.8 L335.5 175.9 L336.2 176.0 L337.0 176.1 L337.8 176.3 L338.5 176.5 L339.2 176.8 L340.0 177.0 L340.8 177.2 L341.5 177.5 L342.2 177.7 L343.0 177.9 L343.8 178.0 L344.5 178.2 L345.2 178.3 L346.0 178.3 L346.8 178.3 L347.5 178.3 L348.2 178.3 L349.0 178.2 L349.8 178.1 L350.5 178.0 L351.2 177.9 L352.0 177.8 L352.8 177.8 L353.5 177.7 L354.2 177.7 L355.0 177.6 L355.8 177.7 L356.5 177.8 L357.2 177.9 L358.0 178.0 L358.8 178.2 L359.5 178.5 L360.2 178.7 L361.0 179.0 L361.8 179.2 L362.5 179.5 L363.2 179.7 L364.0 180.0 L364.8 180.2 L365.5 180.4 L366.2 180.6 L367.0 180.8 L367.8 180.9 L368.5 180.9 L369.2 180.9 L370.0 180.9 L370.8 180.9 L371.5 180.8 L372.2 180.7 L373.0 180.7 L373.8 180.6 L374.5 180.6 L375.2 180.6 L376.0 180.6 L376.8 180.7 L377.5 180.8 L378.2 181.0 L379.0 181.2 L379.8 181.5 L380.5 181.9 L381.2 182.3 L382.0 182.8 L382.8 183.2 L383.5 183.7 L384.2 184.2 L385.0 184.7 L385.8 185.1 L386.5 185.6 L387.2 186.0 L388.0 186.4 L388.8 186.7 L389.5 187.0 L390.2 187.3 L391.0 187.5 L391.8 187.6 L392.5 187.8 L393.2 187.9 L394.0 188.1 L394.8 188.2 L395.5 188.4 L396.2 188.6 L397.0 188.8 L397.8 189.1 L398.5 189.4 L399.2 189.8 L400.0 190.3 L400.8 190.8 L401.5 191.4 L402.2 192.1 L403.0 192.8 L403.8 193.7 L404.5 194.5 L405.2 195.4 L406.0 196.4 L406.8 197.4 L407.5 198.5 L408.2 199.6 L409.0 200.8 L409.8 201.9 L410.5 203.0 L411.2 204.1 L412.0 205.1 L412.8 206.1 L413.5 206.9 L414.2 207.7 L415.0 208.5 L415.8 209.1 L416.5 209.7 L417.2 210.2 L418.0 210.8 L418.8 211.3 L419.5 211.8 L420.2 212.3 L421.0 212.9 L421.8 213.5 L422.5 214.2 L423.2 215.0 L424.0 215.8 L424.8 216.8 L425.5 217.8 L426.2 219.0 L427.0 220.2 L427.8 221.6 L428.5 223.1 L429.2 224.7 L430.0 226.4 L430.8 228.2 L431.5 229.9 L432.2 231.7 L433.0 233.4 L433.8 235.0 L434.5 236.5 L435.2 237.9 L436.0 239.2 L436.8 240.4 L437.5 241.6 L438.2 242.6 L439.0 243.7 L439.8 244.6 L440.5 245.5 L441.2 246.4 L442.0 247.3 L442.8 248.2 L443.5 249.1 L444.2 250.0 L445.0 251.0 L445.8 252.1 L446.5 253.3 L447.2 254.5 L448.0 255.9 L448.8 257.4 L449.5 259.0 L450.2 260.6 L451.0 262.3 L451.8 264.1 L452.5 265.9 L453.2 267.7 L454.0 269.5 L454.8 271.4 L455.5 273.2 L456.2 275.0 L457.0 276.7 L457.8 278.4 L458.5 280.0 L459.2 281.5 L460.0 282.9 L460.8 284.3 L461.5 285.6 L462.2 286.8 L463.0 288.0 L463.8 289.2 L464.5 290.3 L465.2 291.4 L466.0 292.5 L466.8 293.6 L467.5 294.8 L468.2 295.9 L469.0 297.2 L469.8 298.5 L470.5 299.9 L471.2 301.5 L472.0 303.2 L472.8 304.9 L473.5 306.7 L474.2 308.6 L475.0 310.4 L475.8 312.3 L476.5 314.1 L477.2 315.9 L478.0 317.6 L478.8 319.2 L479.5 320.9 L480.2 322.4 L481.0 323.9 L481.8 325.4 L482.5 326.8 L483.2 328.1 L484.0 329.4 L484.8 330.7 L485.5 331.9 L486.2 333.0 L487.0 334.1 L487.8 335.3 L488.5 336.5 L489.2 337.7 L490.0 339.0 L490.8 340.3 L491.5 341.8 L492.2 343.5 L493.0 345.2 L493.8 347.1 L494.5 349.0 L495.2 351.0 L496.0 353.0 L496.8 354.9 L497.5 356.9 L498.2 358.8 L499.0 360.6 L499.8 362.4 L500.5 364.2 L501.2 365.8 L502.0 367.5 L502.8 369.1 L503.5 370.7 L504.2 372.2 L505.0 373.6 L505.8 375.1 L506.5 376.5 L507.2 377.9 L508.0 379.3 L508.8 380.7 L509.5 382.0 L510.2 383.4 L511.0 384.8 L511.8 386.3 L512.5 387.8 L513.2 389.4 L514.0 391.1 L514.8 393.0 L515.5 395.0 L516.2 397.1 L517.0 399.3 L517.8 401.6 L518.5 403.8 L519.2 406.1 L520.0 408.3 L520.8 410.4 L521.5 412.6 L522.2 414.6 L523.0 416.7 L523.8 418.7 L524.5 420.6 L525.2 422.5 L526.0 424.3 L526.8 426.0 L527.5 427.7 L528.2 429.3 L529.0 430.9 L529.8 432.4 L530.5 433.8 L531.2 435.2 L532.0 436.7 L532.8 438.1 L533.5 439.5 L534.2 441.0 L535.0 442.6 L535.8 444.2 L536.5 445.9 L537.2 447.6 L538.0 449.3 L538.8 451.0 L539.5 452.8 L540.2 454.5 L541.0 456.3 L541.8 458.0 L542.5 459.8 L543.2 461.5 L544.0 463.3 L544.8 465.1 L545.5 466.8 L546.2 468.6 L547.0 470.3 L547.8 472.1 L548.5 473.9 L549.2 475.7 L550.0 477.4 L550.8 479.2 L551.5 481.0 L552.2 482.8 L553.0 484.6 L553.8 486.4 L554.5 488.2 L555.2 490.1 L556.0 491.9 L556.8 493.7 L557.5 495.5 L558.2 497.4 L559.0 499.2 L559.8 501.1 L560.5 502.9 L561.2 504.7 L562.0 506.6 L562.8 508.4 L563.5 510.2 L564.2 512.1 L565.0 513.9 L565.8 515.7 L566.5 517.5 L567.2 519.3 L568.0 521.2 L568.8 523.0 L569.5 524.7 L570.2 526.5 L571.0 528.2 L571.8 529.8 L572.5 531.5 L573.2 533.1 L574.0 534.7 L574.8 536.2 L575.5 537.8 L576.2 539.2 L577.0 540.7 L577.8 542.1 L578.5 543.5 L579.2 544.8"/>
</defs>
<g clip-path="url(#ax)" fill="none" stroke-linejoin="round">
<path d="M100.0 136.1 L100.8 136.4 L101.5 136.6 L102.2 136.8 L103.0 137.1 L103.8 137.3 L104.5 137.5 L105.2 137.7 L106.0 137.8 L106.8 138.0 L107.5 138.1 L108.2 138.2 L109.0 138.2 L109.8 138.3 L110.5 138.3 L111.2 138.4 L112.0 138.4 L112.8 138.4 L113.5 138.5 L114.2 138.5 L115.0 138.6 L115.8 138.7 L116.5 138.8 L117.2 138.9 L118.0 139.1 L118.8 139.3 L119.5 139.5 L120.2 139.7 L121.0 140.0 L121.8 140.3 L122.5 140.6 L123.2 140.9 L124.0 141.2 L124.8 141.5 L125.5 141.8 L126.2 142.0 L127.0 142.3 L127.8 142.5 L128.5 142.8 L129.2 143.0 L130.0 143.1 L130.8 143.3 L131.5 143.4 L132.2 143.5 L133.0 143.5 L133.8 143.6 L134.5 143.7 L135.2 143.7 L136.0 143.8 L136.8 143.8 L137.5 143.9 L138.2 144.0 L139.0 144.1 L139.8 144.2 L140.5 144.3 L141.2 144.5 L142.0 144.7 L142.8 144.9 L143.5 145.1 L144.2 145.3 L145.0 145.5 L145.8 145.7 L146.5 146.0 L147.2 146.1 L148.0 146.3 L148.8 146.5 L149.5 146.6 L150.2 146.7 L151.0 146.8 L151.8 146.9 L152.5 146.9 L153.2 147.0 L154.0 147.0 L154.8 147.0 L155.5 147.0 L156.2 147.0 L157.0 147.0 L157.8 147.0 L158.5 147.0 L159.2 147.1 L160.0 147.2 L160.8 147.3 L161.5 147.4 L162.2 147.5 L163.0 147.7 L163.8 147.9 L164.5 148.1 L165.2 148.3 L166.0 148.6 L166.8 148.8 L167.5 149.0 L168.2 149.2 L169.0 149.4 L169.8 149.6 L170.5 149.8 L171.2 149.9 L172.0 150.0 L172.8 150.1 L173.5 150.2 L174.2 150.2 L175.0 150.2 L175.8 150.2 L176.5 150.2 L177.2 150.2 L178.0 150.2 L178.8 150.2 L179.5 150.2 L180.2 150.2 L181.0 150.2 L181.8 150.3 L182.5 150.3 L183.2 150.4 L184.0 150.6 L184.8 150.7 L185.5 150.9 L186.2 151.0 L187.0 151.2 L187.8 151.4 L188.5 151.6 L189.2 151.8 L190.0 152.0 L190.8 152.2 L191.5 152.3 L192.2 152.5 L193.0 152.6 L193.8 152.7 L194.5 152.7 L195.2 152.7 L196.0 152.7 L196.8 152.7 L197.5 152.7 L198.2 152.6 L199.0 152.6 L199.8 152.5 L200.5 152.5 L201.2 152.4 L202.0 152.4 L202.8 152.4 L203.5 152.5 L204.2 152.5 L205.0 152.6 L205.8 152.8 L206.5 152.9 L207.2 153.1 L208.0 153.3 L208.8 153.5 L209.5 153.8 L210.2 154.0 L211.0 154.3 L211.8 154.5 L212.5 154.8 L213.2 155.0 L214.0 155.2 L214.8 155.4 L215.5 155.5 L216.2 155.6 L217.0 155.7 L217.8 155.8 L218.5 155.9 L219.2 155.9 L220.0 155.9 L220.8 156.0 L221.5 156.0 L222.2 156.0 L223.0 156.0 L223.8 156.1 L224.5 156.2 L225.2 156.3 L226.0 156.4 L226.8 156.6 L227.5 156.8 L228.2 157.0 L229.0 157.2 L229.8 157.4 L230.5 157.7 L231.2 157.9 L232.0 158.2 L232.8 158.4 L233.5 158.7 L234.2 158.9 L235.0 159.0 L235.8 159.2 L236.5 159.3 L237.2 159.4 L238.0 159.5 L238.8 159.6 L239.5 159.6 L240.2 159.6 L241.0 159.5 L241.8 159.5 L242.5 159.4 L243.2 159.4 L244.0 159.3 L244.8 159.3 L245.5 159.3 L246.2 159.3 L247.0 159.3 L247.8 159.3 L248.5 159.4 L249.2 159.5 L250.0 159.6 L250.8 159.8 L251.5 159.9 L252.2 160.1 L253.0 160.2 L253.8 160.4 L254.5 160.6 L255.2 160.7 L256.0 160.9 L256.8 161.0 L257.5 161.1 L258.2 161.2 L259.0 161.2 L259.8 161.2 L260.5 161.2 L261.2 161.2 L262.0 161.2 L262.8 161.1 L263.5 161.1 L264.2 161.0 L265.0 160.9 L265.8 160.9 L266.5 160.8 L267.2 160.8 L268.0 160.8 L268.8 160.8 L269.5 160.9 L270.2 160.9 L271.0 161.0 L271.8 161.1 L272.5 161.3 L273.2 161.4 L274.0 161.6 L274.8 161.8 L275.5 161.9 L276.2 162.1 L277.0 162.3 L277.8 162.4 L278.5 162.6 L279.2 162.7 L280.0 162.8 L280.8 162.8 L281.5 162.9 L282.2 162.9 L283.0 162.9 L283.8 162.9 L284.5 162.8 L285.2 162.8 L286.0 162.8 L286.8 162.7 L287.5 162.7 L288.2 162.7 L289.0 162.7 L289.8 162.7 L290.5 162.8 L291.2 162.8 L292.0 162.9 L292.8 163.1 L293.5 163.2 L294.2 163.4 L295.0 163.6 L295.8 163.8 L296.5 164.0 L297.2 164.2 L298.0 164.4 L298.8 164.6 L299.5 164.8 L300.2 165.0 L301.0 165.1 L301.8 165.2 L302.5 165.3 L303.2 165.4 L304.0 165.5 L304.8 165.5 L305.5 165.5 L306.2 165.5 L307.0 165.5 L307.8 165.5 L308.5 165.5 L309.2 165.4 L310.0 165.5 L310.8 165.5 L311.5 165.5 L312.2 165.6 L313.0 165.7 L313.8 165.8 L314.5 166.0 L315.2 166.1 L316.0 166.3 L316.8 166.5 L317.5 166.7 L318.2 167.0 L319.0 167.2 L319.8 167.4 L320.5 167.6 L321.2 167.8 L322.0 168.0 L322.8 168.2 L323.5 168.3 L324.2 168.4 L325.0 168.5 L325.8 168.6 L326.5 168.6 L327.2 168.6 L328.0 168.6 L328.8 168.6 L329.5 168.6 L330.2 168.7 L331.0 168.7 L331.8 168.7 L332.5 168.7 L333.2 168.8 L334.0 168.9 L334.8 169.0 L335.5 169.1 L336.2 169.3 L337.0 169.5 L337.8 169.7 L338.5 169.9 L339.2 170.1 L340.0 170.3 L340.8 170.6 L341.5 170.8 L342.2 171.0 L343.0 171.2 L343.8 171.4 L344.5 171.6 L345.2 171.7 L346.0 171.8 L346.8 171.9 L347.5 172.0 L348.2 172.0 L349.0 172.0 L349.8 172.0 L350.5 172.0 L351.2 172.0 L352.0 172.0 L352.8 171.9 L353.5 171.9 L354.2 172.0 L355.0 172.0 L355.8 172.1 L356.5 172.2 L357.2 172.3 L358.0 172.5 L358.8 172.7 L359.5 172.9 L360.2 173.2 L361.0 173.5 L361.8 173.7 L362.5 174.0 L363.2 174.2 L364.0 174.5 L364.8 174.7 L365.5 175.0 L366.2 175.1 L367.0 175.3 L367.8 175.4 L368.5 175.5 L369.2 175.6 L370.0 175.6 L370.8 175.6 L371.5 175.6 L372.2 175.6 L373.0 175.6 L373.8 175.6 L374.5 175.6 L375.2 175.6 L376.0 175.7 L376.8 175.8 L377.5 175.9 L378.2 176.1 L379.0 176.4 L379.8 176.7 L380.5 177.0 L381.2 177.4 L382.0 177.8 L382.8 178.2 L383.5 178.7 L384.2 179.1 L385.0 179.6 L385.8 180.0 L386.5 180.4 L387.2 180.8 L388.0 181.2 L388.8 181.5 L389.5 181.8 L390.2 182.1 L391.0 182.3 L391.8 182.5 L392.5 182.7 L393.2 182.9 L394.0 183.1 L394.8 183.3 L395.5 183.5 L396.2 183.7 L397.0 184.0 L397.8 184.3 L398.5 184.6 L399.2 185.0 L400.0 185.5 L400.8 186.1 L401.5 186.7 L402.2 187.4 L403.0 188.1 L403.8 188.9 L404.5 189.7 L405.2 190.6 L406.0 191.6 L406.8 192.6 L407.5 193.6 L408.2 194.6 L409.0 195.7 L409.8 196.8 L410.5 197.9 L411.2 198.9 L412.0 199.9 L412.8 200.8 L413.5 201.7 L414.2 202.5 L415.0 203.2 L415.8 203.9 L416.5 204.5 L417.2 205.1 L418.0 205.7 L418.8 206.3 L419.5 206.9 L420.2 207.5 L421.0 208.1 L421.8 208.8 L422.5 209.5 L423.2 210.3 L424.0 211.2 L424.8 212.1 L425.5 213.1 L426.2 214.2 L427.0 215.4 L427.8 216.7 L428.5 218.1 L429.2 219.6 L430.0 221.2 L430.8 222.9 L431.5 224.5 L432.2 226.1 L433.0 227.7 L433.8 229.2 L434.5 230.6 L435.2 231.9 L436.0 233.2 L436.8 234.3 L437.5 235.4 L438.2 236.5 L439.0 237.5 L439.8 238.4 L440.5 239.3 L441.2 240.2 L442.0 241.1 L442.8 242.0 L443.5 242.9 L444.2 243.8 L445.0 244.8 L445.8 245.8 L446.5 246.9 L447.2 248.2 L448.0 249.5 L448.8 250.9 L449.5 252.3 L450.2 253.9 L451.0 255.5 L451.8 257.1 L452.5 258.7 L453.2 260.4 L454.0 262.1 L454.8 263.8 L455.5 265.4 L456.2 267.1 L457.0 268.7 L457.8 270.2 L458.5 271.7 L459.2 273.1 L460.0 274.4 L460.8 275.7 L461.5 276.9 L462.2 278.1 L463.0 279.2 L463.8 280.3 L464.5 281.3 L465.2 282.4 L466.0 283.4 L466.8 284.4 L467.5 285.4 L468.2 286.5 L469.0 287.6 L469.8 288.8 L470.5 290.1 L471.2 291.5 L472.0 293.0 L472.8 294.5 L473.5 296.1 L474.2 297.7 L475.0 299.3 L475.8 300.9 L476.5 302.4 L477.2 303.9 L478.0 305.4 L478.8 306.8 L479.5 308.2 L480.2 309.5 L481.0 310.8 L481.8 312.0 L482.5 313.2 L483.2 314.3 L484.0 315.3 L484.8 316.3 L485.5 317.2 L486.2 318.1 L487.0 318.9 L487.8 319.8 L488.5 320.6 L489.2 321.5 L490.0 322.5 L490.8 323.5 L491.5 324.6 L492.2 325.7 L493.0 327.0 L493.8 328.4 L494.5 329.8 L495.2 331.3 L496.0 332.8 L496.8 334.2 L497.5 335.6 L498.2 337.0 L499.0 338.4 L499.8 339.7 L500.5 340.9 L501.2 342.2 L502.0 343.4 L502.8 344.5 L503.5 345.7 L504.2 346.8 L505.0 347.9 L505.8 348.9 L506.5 350.0 L507.2 351.0 L508.0 352.1 L508.8 353.1 L509.5 354.1 L510.2 355.2 L511.0 356.2 L511.8 357.4 L512.5 358.5 L513.2 359.8 L514.0 361.2 L514.8 362.6 L515.5 364.2 L516.2 365.9 L517.0 367.7 L517.8 369.5 L518.5 371.3 L519.2 373.1 L520.0 374.9 L520.8 376.6 L521.5 378.3 L522.2 380.0 L523.0 381.6 L523.8 383.2 L524.5 384.8 L525.2 386.3 L526.0 387.7 L526.8 389.1 L527.5 390.5 L528.2 391.8 L529.0 393.0 L529.8 394.2 L530.5 395.4 L531.2 396.5 L532.0 397.7 L532.8 398.8 L533.5 400.0 L534.2 401.2 L535.0 402.5 L535.8 403.8 L536.5 405.1 L537.2 406.5 L538.0 407.9 L538.8 409.4 L539.5 410.9 L540.2 412.4 L541.0 413.9 L541.8 415.4 L542.5 416.9 L543.2 418.4 L544.0 419.9 L544.8 421.4 L545.5 423.0 L546.2 424.5 L547.0 426.1 L547.8 427.6 L548.5 429.2 L549.2 430.7 L550.0 432.3 L550.8 433.9 L551.5 435.5 L552.2 437.1 L553.0 438.6 L553.8 440.2 L554.5 441.9 L555.2 443.5 L556.0 445.1 L556.8 446.7 L557.5 448.3 L558.2 449.9 L559.0 451.6 L559.8 453.2 L560.5 454.8 L561.2 456.5 L562.0 458.1 L562.8 459.8 L563.5 461.4 L564.2 463.0 L565.0 464.7 L565.8 466.3 L566.5 467.9 L567.2 469.6 L568.0 471.2 L568.8 472.8 L569.5 474.4 L570.2 475.9 L571.0 477.5 L571.8 478.9 L572.5 480.4 L573.2 481.8 L574.0 483.2 L574.8 484.5 L575.5 485.8 L576.2 487.1 L577.0 488.4 L577.8 489.6 L578.5 490.7 L579.2 491.9 L579.2 608.2 L578.5 606.7 L577.8 605.1 L577.0 603.5 L576.2 601.8 L575.5 600.1 L574.8 598.3 L574.0 596.5 L573.2 594.7 L572.5 592.8 L571.8 590.9 L571.0 588.9 L570.2 586.9 L569.5 584.8 L568.8 582.8 L568.0 580.7 L567.2 578.5 L566.5 576.4 L565.8 574.3 L565.0 572.1 L564.2 569.9 L563.5 567.8 L562.8 565.6 L562.0 563.4 L561.2 561.3 L560.5 559.1 L559.8 556.9 L559.0 554.7 L558.2 552.5 L557.5 550.3 L556.8 548.1 L556.0 546.0 L555.2 543.8 L554.5 541.6 L553.8 539.4 L553.0 537.2 L552.2 535.1 L551.5 532.9 L550.8 530.7 L550.0 528.6 L549.2 526.4 L548.5 524.3 L547.8 522.1 L547.0 519.9 L546.2 517.8 L545.5 515.7 L544.8 513.5 L544.0 511.4 L543.2 509.2 L542.5 507.1 L541.8 505.0 L541.0 502.8 L540.2 500.7 L539.5 498.6 L538.8 496.4 L538.0 494.3 L537.2 492.2 L536.5 490.1 L535.8 488.0 L535.0 485.9 L534.2 483.9 L533.5 481.9 L532.8 479.9 L532.0 478.0 L531.2 476.0 L530.5 474.0 L529.8 472.0 L529.0 470.0 L528.2 467.9 L527.5 465.7 L526.8 463.5 L526.0 461.2 L525.2 458.8 L524.5 456.4 L523.8 453.9 L523.0 451.4 L522.2 448.9 L521.5 446.3 L520.8 443.6 L520.0 441.0 L519.2 438.3 L518.5 435.6 L517.8 432.8 L517.0 430.1 L516.2 427.4 L515.5 424.8 L514.8 422.3 L514.0 419.8 L513.2 417.5 L512.5 415.3 L511.8 413.1 L511.0 411.0 L510.2 408.9 L509.5 406.8 L508.8 404.7 L508.0 402.6 L507.2 400.5 L506.5 398.3 L505.8 396.2 L505.0 394.0 L504.2 391.8 L503.5 389.6 L502.8 387.3 L502.0 385.1 L501.2 382.7 L500.5 380.4 L499.8 378.0 L499.0 375.7 L498.2 373.2 L497.5 370.8 L496.8 368.4 L496.0 365.9 L495.2 363.5 L494.5 361.1 L493.8 358.7 L493.0 356.5 L492.2 354.4 L491.5 352.4 L490.8 350.6 L490.0 348.9 L489.2 347.3 L488.5 345.7 L487.8 344.2 L487.0 342.7 L486.2 341.2 L485.5 339.7 L484.8 338.2 L484.0 336.7 L483.2 335.1 L482.5 333.5 L481.8 331.8 L481.0 330.1 L480.2 328.4 L479.5 326.6 L478.8 324.8 L478.0 323.0 L477.2 321.2 L476.5 319.3 L475.8 317.3 L475.0 315.4 L474.2 313.4 L473.5 311.5 L472.8 309.6 L472.0 307.8 L471.2 306.0 L470.5 304.3 L469.8 302.8 L469.0 301.3 L468.2 299.9 L467.5 298.6 L466.8 297.3 L466.0 296.1 L465.2 294.8 L464.5 293.6 L463.8 292.3 L463.0 291.0 L462.2 289.6 L461.5 288.3 L460.8 286.9 L460.0 285.4 L459.2 283.9 L458.5 282.3 L457.8 280.7 L457.0 279.0 L456.2 277.2 L455.5 275.4 L454.8 273.6 L454.0 271.8 L453.2 270.0 L452.5 268.1 L451.8 266.4 L451.0 264.6 L450.2 262.9 L449.5 261.3 L448.8 259.7 L448.0 258.2 L447.2 256.7 L446.5 255.4 L445.8 254.2 L445.0 253.0 L444.2 252.0 L443.5 250.9 L442.8 249.9 L442.0 248.9 L441.2 248.0 L440.5 247.0 L439.8 245.9 L439.0 244.9 L438.2 243.8 L437.5 242.7 L436.8 241.5 L436.0 240.2 L435.2 238.9 L434.5 237.5 L433.8 236.0 L433.0 234.4 L432.2 232.8 L431.5 231.1 L430.8 229.4 L430.0 227.7 L429.2 226.0 L428.5 224.5 L427.8 223.0 L427.0 221.7 L426.2 220.4 L425.5 219.3 L424.8 218.2 L424.0 217.2 L423.2 216.4 L422.5 215.5 L421.8 214.8 L421.0 214.1 L420.2 213.5 L419.5 212.9 L418.8 212.3 L418.0 211.7 L417.2 211.1 L416.5 210.5 L415.8 209.9 L415.0 209.2 L414.2 208.5 L413.5 207.7 L412.8 206.8 L412.0 205.9 L411.2 204.9 L410.5 203.9 L409.8 202.8 L409.0 201.7 L408.2 200.6 L407.5 199.6 L406.8 198.6 L406.0 197.6 L405.2 196.6 L404.5 195.7 L403.8 194.9 L403.0 194.1 L402.2 193.4 L401.5 192.7 L400.8 192.1 L400.0 191.5 L399.2 191.0 L398.5 190.6 L397.8 190.3 L397.0 190.0 L396.2 189.7 L395.5 189.5 L394.8 189.3 L394.0 189.1 L393.2 188.9 L392.5 188.7 L391.8 188.5 L391.0 188.3 L390.2 188.1 L389.5 187.8 L388.8 187.5 L388.0 187.2 L387.2 186.8 L386.5 186.4 L385.8 186.0 L385.0 185.6 L384.2 185.1 L383.5 184.7 L382.8 184.2 L382.0 183.8 L381.2 183.4 L380.5 183.0 L379.8 182.7 L379.0 182.4 L378.2 182.1 L377.5 181.9 L376.8 181.8 L376.0 181.7 L375.2 181.7 L374.5 181.6 L373.8 181.6 L373.0 181.6 L372.2 181.7 L371.5 181.7 L370.8 181.7 L370.0 181.7 L369.2 181.7 L368.5 181.7 L367.8 181.6 L367.0 181.5 L366.2 181.4 L365.5 181.2 L364.8 181.0 L364.0 180.8 L363.2 180.6 L362.5 180.3 L361.8 180.1 L361.0 179.9 L360.2 179.6 L359.5 179.4 L358.8 179.2 L358.0 179.1 L357.2 178.9 L356.5 178.8 L355.8 178.8 L355.0 178.7 L354.2 178.7 L353.5 178.7 L352.8 178.7 L352.0 178.8 L351.2 178.8 L350.5 178.8 L349.8 178.8 L349.0 178.8 L348.2 178.8 L347.5 178.8 L346.8 178.8 L346.0 178.7 L345.2 178.6 L344.5 178.6 L343.8 178.5 L343.0 178.3 L342.2 178.2 L341.5 178.1 L340.8 178.0 L340.0 177.9 L339.2 177.8 L338.5 177.7 L337.8 177.6 L337.0 177.5 L336.2 177.4 L335.5 177.4 L334.8 177.4 L334.0 177.4 L333.2 177.4 L332.5 177.4 L331.8 177.4 L331.0 177.5 L330.2 177.5 L329.5 177.6 L328.8 177.6 L328.0 177.7 L327.2 177.7 L326.5 177.7 L325.8 177.8 L325.0 177.8 L324.2 177.8 L323.5 177.8 L322.8 177.8 L322.0 177.8 L321.2 177.8 L320.5 177.7 L319.8 177.7 L319.0 177.7 L318.2 177.6 L317.5 177.6 L316.8 177.5 L316.0 177.5 L315.2 177.4 L314.5 177.4 L313.8 177.4 L313.0 177.4 L312.2 177.4 L311.5 177.4 L310.8 177.4 L310.0 177.5 L309.2 177.5 L308.5 177.6 L307.8 177.6 L307.0 177.7 L306.2 177.7 L305.5 177.8 L304.8 177.8 L304.0 177.9 L303.2 177.9 L302.5 177.9 L301.8 178.0 L301.0 178.0 L300.2 178.0 L299.5 177.9 L298.8 177.9 L298.0 177.9 L297.2 177.9 L296.5 177.8 L295.8 177.8 L295.0 177.8 L294.2 177.7 L293.5 177.7 L292.8 177.7 L292.0 177.7 L291.2 177.8 L290.5 177.8 L289.8 177.8 L289.0 177.9 L288.2 178.0 L287.5 178.0 L286.8 178.1 L286.0 178.2 L285.2 178.3 L284.5 178.4 L283.8 178.4 L283.0 178.5 L282.2 178.6 L281.5 178.7 L280.8 178.7 L280.0 178.8 L279.2 178.8 L278.5 178.8 L277.8 178.9 L277.0 178.9 L276.2 178.9 L275.5 179.0 L274.8 179.0 L274.0 179.0 L273.2 179.1 L272.5 179.1 L271.8 179.2 L271.0 179.3 L270.2 179.3 L269.5 179.4 L268.8 179.5 L268.0 179.6 L267.2 179.8 L266.5 179.9 L265.8 180.0 L265.0 180.1 L264.2 180.3 L263.5 180.4 L262.8 180.5 L262.0 180.6 L261.2 180.7 L260.5 180.8 L259.8 180.8 L259.0 180.8 L258.2 180.9 L257.5 180.8 L256.8 180.8 L256.0 180.8 L255.2 180.7 L254.5 180.7 L253.8 180.6 L253.0 180.6 L252.2 180.5 L251.5 180.4 L250.8 180.4 L250.0 180.3 L249.2 180.3 L248.5 180.3 L247.8 180.2 L247.0 180.2 L246.2 180.2 L245.5 180.3 L244.8 180.3 L244.0 180.3 L243.2 180.4 L242.5 180.4 L241.8 180.5 L241.0 180.5 L240.2 180.6 L239.5 180.6 L238.8 180.6 L238.0 180.7 L237.2 180.7 L236.5 180.8 L235.8 180.8 L235.0 180.9 L234.2 180.9 L233.5 180.9 L232.8 181.0 L232.0 181.0 L231.2 181.0 L230.5 181.1 L229.8 181.1 L229.0 181.2 L228.2 181.3 L227.5 181.4 L226.8 181.5 L226.0 181.6 L225.2 181.7 L224.5 181.8 L223.8 182.0 L223.0 182.1 L222.2 182.3 L221.5 182.5 L220.8 182.6 L220.0 182.8 L219.2 183.0 L218.5 183.2 L217.8 183.4 L217.0 183.5 L216.2 183.7 L215.5 183.9 L214.8 184.1 L214.0 184.2 L213.2 184.4 L212.5 184.5 L211.8 184.7 L211.0 184.8 L210.2 185.0 L209.5 185.1 L208.8 185.3 L208.0 185.4 L207.2 185.6 L206.5 185.8 L205.8 185.9 L205.0 186.1 L204.2 186.3 L203.5 186.6 L202.8 186.8 L202.0 187.0 L201.2 187.3 L200.5 187.5 L199.8 187.8 L199.0 188.1 L198.2 188.4 L197.5 188.6 L196.8 188.9 L196.0 189.2 L195.2 189.5 L194.5 189.7 L193.8 190.0 L193.0 190.2 L192.2 190.4 L191.5 190.6 L190.8 190.9 L190.0 191.1 L189.2 191.3 L188.5 191.4 L187.8 191.6 L187.0 191.8 L186.2 192.0 L185.5 192.2 L184.8 192.5 L184.0 192.7 L183.2 192.9 L182.5 193.2 L181.8 193.4 L181.0 193.7 L180.2 194.0 L179.5 194.3 L178.8 194.6 L178.0 194.9 L177.2 195.2 L176.5 195.5 L175.8 195.8 L175.0 196.1 L174.2 196.4 L173.5 196.7 L172.8 197.0 L172.0 197.3 L171.2 197.6 L170.5 197.8 L169.8 198.1 L169.0 198.3 L168.2 198.6 L167.5 198.8 L166.8 199.0 L166.0 199.3 L165.2 199.5 L164.5 199.7 L163.8 200.0 L163.0 200.2 L162.2 200.5 L161.5 200.8 L160.8 201.1 L160.0 201.4 L159.2 201.7 L158.5 202.1 L157.8 202.4 L157.0 202.8 L156.2 203.1 L155.5 203.5 L154.8 203.9 L154.0 204.3 L153.2 204.6 L152.5 205.0 L151.8 205.4 L151.0 205.7 L150.2 206.1 L149.5 206.5 L148.8 206.8 L148.0 207.2 L147.2 207.5 L146.5 207.8 L145.8 208.2 L145.0 208.5 L144.2 208.8 L143.5 209.2 L142.8 209.5 L142.0 209.9 L141.2 210.2 L140.5 210.6 L139.8 211.0 L139.0 211.4 L138.2 211.8 L137.5 212.2 L136.8 212.6 L136.0 213.1 L135.2 213.5 L134.5 214.0 L133.8 214.5 L133.0 215.0 L132.2 215.5 L131.5 216.0 L130.8 216.5 L130.0 217.0 L129.2 217.4 L128.5 217.9 L127.8 218.3 L127.0 218.7 L126.2 219.1 L125.5 219.4 L124.8 219.7 L124.0 220.0 L123.2 220.2 L122.5 220.4 L121.8 220.7 L121.0 220.9 L120.2 221.1 L119.5 221.3 L118.8 221.6 L118.0 221.8 L117.2 222.1 L116.5 222.3 L115.8 222.6 L115.0 222.9 L114.2 223.1 L113.5 223.4 L112.8 223.7 L112.0 223.9 L111.2 224.2 L110.5 224.4 L109.8 224.7 L109.0 224.9 L108.2 225.1 L107.5 225.4 L106.8 225.5 L106.0 225.7 L105.2 225.9 L104.5 226.0 L103.8 226.1 L103.0 226.2 L102.2 226.2 L101.5 226.2 L100.8 226.3 L100.0 226.3Z" fill="url(#go)" stroke="none"/>
<g stroke-width="1.5">
<use href="#e1" stroke="#f28131" stroke-opacity="0.22" transform="translate(0.3,-0.9)"/>
<use href="#e1" stroke="#3f77b0" stroke-opacity="0.28" transform="translate(0,0.2)"/>
<use href="#e2" stroke="#f28131" stroke-opacity="0.22" transform="translate(0.3,-0.9)"/>
<use href="#e2" stroke="#3f77b0" stroke-opacity="0.28" transform="translate(0,0.2)"/>
</g>
<path d="M100.0 151.4 L100.8 151.6 L101.5 151.9 L102.2 152.1 L103.0 152.3 L103.8 152.5 L104.5 152.6 L105.2 152.7 L106.0 152.8 L106.8 152.8 L107.5 152.8 L108.2 152.8 L109.0 152.7 L109.8 152.6 L110.5 152.4 L111.2 152.3 L112.0 152.1 L112.8 151.9 L113.5 151.7 L114.2 151.6 L115.0 151.5 L115.8 151.4 L116.5 151.4 L117.2 151.4 L118.0 151.4 L118.8 151.5 L119.5 151.6 L120.2 151.8 L121.0 152.0 L121.8 152.2 L122.5 152.5 L123.2 152.7 L124.0 153.0 L124.8 153.2 L125.5 153.4 L126.2 153.6 L127.0 153.7 L127.8 153.9 L128.5 153.9 L129.2 154.0 L130.0 154.0 L130.8 153.9 L131.5 153.8 L132.2 153.7 L133.0 153.6 L133.8 153.5 L134.5 153.3 L135.2 153.2 L136.0 153.1 L136.8 153.0 L137.5 153.0 L138.2 153.0 L139.0 153.1 L139.8 153.2 L140.5 153.3 L141.2 153.5 L142.0 153.7 L142.8 153.9 L143.5 154.2 L144.2 154.5 L145.0 154.8 L145.8 155.1 L146.5 155.3 L147.2 155.6 L148.0 155.8 L148.8 156.0 L149.5 156.1 L150.2 156.2 L151.0 156.2 L151.8 156.2 L152.5 156.2 L153.2 156.1 L154.0 156.0 L154.8 155.9 L155.5 155.7 L156.2 155.6 L157.0 155.4 L157.8 155.3 L158.5 155.2 L159.2 155.2 L160.0 155.2 L160.8 155.2 L161.5 155.3 L162.2 155.4 L163.0 155.5 L163.8 155.7 L164.5 156.0 L165.2 156.2 L166.0 156.5 L166.8 156.8 L167.5 157.1 L168.2 157.3 L169.0 157.6 L169.8 157.8 L170.5 157.9 L171.2 158.1 L172.0 158.2 L172.8 158.2 L173.5 158.2 L174.2 158.2 L175.0 158.1 L175.8 158.0 L176.5 157.9 L177.2 157.8 L178.0 157.7 L178.8 157.6 L179.5 157.5 L180.2 157.4 L181.0 157.4 L181.8 157.4 L182.5 157.5 L183.2 157.6 L184.0 157.7 L184.8 157.9 L185.5 158.1 L186.2 158.4 L187.0 158.6 L187.8 158.9 L188.5 159.2 L189.2 159.5 L190.0 159.7 L190.8 159.9 L191.5 160.1 L192.2 160.3 L193.0 160.4 L193.8 160.5 L194.5 160.5 L195.2 160.4 L196.0 160.4 L196.8 160.3 L197.5 160.1 L198.2 160.0 L199.0 159.8 L199.8 159.7 L200.5 159.5 L201.2 159.4 L202.0 159.3 L202.8 159.2 L203.5 159.2 L204.2 159.2 L205.0 159.3 L205.8 159.4 L206.5 159.6 L207.2 159.8 L208.0 160.1 L208.8 160.4 L209.5 160.7 L210.2 161.0 L211.0 161.3 L211.8 161.6 L212.5 161.9 L213.2 162.2 L214.0 162.4 L214.8 162.5 L215.5 162.7 L216.2 162.8 L217.0 162.8 L217.8 162.8 L218.5 162.8 L219.2 162.8 L220.0 162.7 L220.8 162.6 L221.5 162.5 L222.2 162.5 L223.0 162.4 L223.8 162.4 L224.5 162.4 L225.2 162.4 L226.0 162.5 L226.8 162.6 L227.5 162.8 L228.2 163.0 L229.0 163.2 L229.8 163.5 L230.5 163.8 L231.2 164.1 L232.0 164.4 L232.8 164.7 L233.5 165.0 L234.2 165.2 L235.0 165.5 L235.8 165.6 L236.5 165.8 L237.2 165.8 L238.0 165.9 L238.8 165.8 L239.5 165.8 L240.2 165.7 L241.0 165.6 L241.8 165.4 L242.5 165.3 L243.2 165.1 L244.0 165.0 L244.8 164.8 L245.5 164.8 L246.2 164.7 L247.0 164.7 L247.8 164.7 L248.5 164.8 L249.2 164.9 L250.0 165.1 L250.8 165.2 L251.5 165.5 L252.2 165.7 L253.0 166.0 L253.8 166.2 L254.5 166.5 L255.2 166.7 L256.0 166.9 L256.8 167.1 L257.5 167.2 L258.2 167.3 L259.0 167.3 L259.8 167.3 L260.5 167.3 L261.2 167.2 L262.0 167.1 L262.8 166.9 L263.5 166.8 L264.2 166.6 L265.0 166.5 L265.8 166.3 L266.5 166.2 L267.2 166.1 L268.0 166.0 L268.8 166.0 L269.5 166.0 L270.2 166.1 L271.0 166.2 L271.8 166.4 L272.5 166.6 L273.2 166.8 L274.0 167.0 L274.8 167.3 L275.5 167.5 L276.2 167.8 L277.0 168.0 L277.8 168.2 L278.5 168.4 L279.2 168.5 L280.0 168.6 L280.8 168.6 L281.5 168.6 L282.2 168.6 L283.0 168.5 L283.8 168.4 L284.5 168.2 L285.2 168.1 L286.0 167.9 L286.8 167.8 L287.5 167.6 L288.2 167.5 L289.0 167.4 L289.8 167.3 L290.5 167.3 L291.2 167.3 L292.0 167.4 L292.8 167.5 L293.5 167.7 L294.2 167.9 L295.0 168.1 L295.8 168.4 L296.5 168.6 L297.2 168.9 L298.0 169.1 L298.8 169.3 L299.5 169.6 L300.2 169.7 L301.0 169.9 L301.8 170.0 L302.5 170.0 L303.2 170.0 L304.0 170.0 L304.8 169.9 L305.5 169.8 L306.2 169.7 L307.0 169.5 L307.8 169.4 L308.5 169.2 L309.2 169.1 L310.0 169.0 L310.8 168.9 L311.5 168.9 L312.2 168.9 L313.0 168.9 L313.8 169.0 L314.5 169.1 L315.2 169.3 L316.0 169.5 L316.8 169.8 L317.5 170.0 L318.2 170.3 L319.0 170.6 L319.8 170.8 L320.5 171.1 L321.2 171.3 L322.0 171.5 L322.8 171.6 L323.5 171.8 L324.2 171.8 L325.0 171.8 L325.8 171.8 L326.5 171.8 L327.2 171.7 L328.0 171.5 L328.8 171.4 L329.5 171.3 L330.2 171.2 L331.0 171.0 L331.8 171.0 L332.5 170.9 L333.2 170.9 L334.0 170.9 L334.8 171.0 L335.5 171.1 L336.2 171.2 L337.0 171.4 L337.8 171.7 L338.5 171.9 L339.2 172.2 L340.0 172.4 L340.8 172.7 L341.5 172.9 L342.2 173.2 L343.0 173.4 L343.8 173.6 L344.5 173.7 L345.2 173.8 L346.0 173.9 L346.8 173.9 L347.5 173.9 L348.2 173.9 L349.0 173.8 L349.8 173.8 L350.5 173.7 L351.2 173.6 L352.0 173.5 L352.8 173.4 L353.5 173.4 L354.2 173.3 L355.0 173.3 L355.8 173.4 L356.5 173.4 L357.2 173.6 L358.0 173.7 L358.8 173.9 L359.5 174.2 L360.2 174.4 L361.0 174.7 L361.8 175.0 L362.5 175.2 L363.2 175.5 L364.0 175.8 L364.8 176.0 L365.5 176.2 L366.2 176.4 L367.0 176.5 L367.8 176.6 L368.5 176.7 L369.2 176.7 L370.0 176.7 L370.8 176.7 L371.5 176.6 L372.2 176.6 L373.0 176.5 L373.8 176.5 L374.5 176.4 L375.2 176.4 L376.0 176.5 L376.8 176.6 L377.5 176.7 L378.2 176.9 L379.0 177.1 L379.8 177.4 L380.5 177.8 L381.2 178.2 L382.0 178.6 L382.8 179.1 L383.5 179.6 L384.2 180.1 L385.0 180.6 L385.8 181.1 L386.5 181.5 L387.2 181.9 L388.0 182.3 L388.8 182.7 L389.5 182.9 L390.2 183.2 L391.0 183.4 L391.8 183.6 L392.5 183.7 L393.2 183.9 L394.0 184.0 L394.8 184.2 L395.5 184.4 L396.2 184.6 L397.0 184.8 L397.8 185.1 L398.5 185.4 L399.2 185.8 L400.0 186.3 L400.8 186.8 L401.5 187.4 L402.2 188.1 L403.0 188.8 L403.8 189.6 L404.5 190.5 L405.2 191.4 L406.0 192.4 L406.8 193.4 L407.5 194.5 L408.2 195.6 L409.0 196.7 L409.8 197.9 L410.5 199.0 L411.2 200.1 L412.0 201.1 L412.8 202.1 L413.5 202.9 L414.2 203.7 L415.0 204.5 L415.8 205.1 L416.5 205.7 L417.2 206.2 L418.0 206.8 L418.8 207.3 L419.5 207.8 L420.2 208.3 L421.0 208.9 L421.8 209.5 L422.5 210.2 L423.2 211.0 L424.0 211.8 L424.8 212.7 L425.5 213.8 L426.2 214.9 L427.0 216.1 L427.8 217.5 L428.5 219.0 L429.2 220.5 L430.0 222.2 L430.8 224.0 L431.5 225.7 L432.2 227.5 L433.0 229.2 L433.8 230.8 L434.5 232.2 L435.2 233.6 L436.0 234.9 L436.8 236.1 L437.5 237.2 L438.2 238.2 L439.0 239.2 L439.8 240.1 L440.5 241.0 L441.2 241.8 L442.0 242.7 L442.8 243.5 L443.5 244.4 L444.2 245.3 L445.0 246.3 L445.8 247.3 L446.5 248.4 L447.2 249.7 L448.0 251.0 L448.8 252.5 L449.5 254.0 L450.2 255.6 L451.0 257.3 L451.8 259.0 L452.5 260.8 L453.2 262.6 L454.0 264.3 L454.8 266.1 L455.5 267.9 L456.2 269.6 L457.0 271.3 L457.8 272.9 L458.5 274.5 L459.2 275.9 L460.0 277.3 L460.8 278.6 L461.5 279.9 L462.2 281.1 L463.0 282.2 L463.8 283.3 L464.5 284.4 L465.2 285.4 L466.0 286.4 L466.8 287.5 L467.5 288.5 L468.2 289.6 L469.0 290.8 L469.8 292.0 L470.5 293.4 L471.2 294.8 L472.0 296.4 L472.8 298.1 L473.5 299.8 L474.2 301.5 L475.0 303.2 L475.8 305.0 L476.5 306.7 L477.2 308.3 L478.0 309.9 L478.8 311.4 L479.5 312.9 L480.2 314.3 L481.0 315.7 L481.8 317.0 L482.5 318.2 L483.2 319.3 L484.0 320.3 L484.8 321.3 L485.5 322.2 L486.2 323.0 L487.0 323.9 L487.8 324.7 L488.5 325.5 L489.2 326.4 L490.0 327.3 L490.8 328.3 L491.5 329.4 L492.2 330.6 L493.0 331.9 L493.8 333.4 L494.5 334.9 L495.2 336.4 L496.0 337.9 L496.8 339.4 L497.5 340.9 L498.2 342.3 L499.0 343.7 L499.8 345.0 L500.5 346.3 L501.2 347.5 L502.0 348.7 L502.8 349.8 L503.5 350.9 L504.2 352.0 L505.0 353.0 L505.8 354.0 L506.5 355.1 L507.2 356.0 L508.0 357.0 L508.8 358.0 L509.5 358.9 L510.2 359.9 L511.0 360.8 L511.8 361.9 L512.5 363.0 L513.2 364.2 L514.0 365.5 L514.8 366.9 L515.5 368.5 L516.2 370.2 L517.0 372.0 L517.8 373.8 L518.5 375.6 L519.2 377.4 L520.0 379.2 L520.8 381.0 L521.5 382.7 L522.2 384.3 L523.0 385.9 L523.8 387.5 L524.5 389.0 L525.2 390.5 L526.0 391.9 L526.8 393.2 L527.5 394.5 L528.2 395.7 L529.0 396.9 L529.8 398.0 L530.5 399.0 L531.2 400.1 L532.0 401.1 L532.8 402.2 L533.5 403.3 L534.2 404.4 L535.0 405.6 L535.8 406.9 L536.5 408.2 L537.2 409.6 L538.0 411.0 L538.8 412.5 L539.5 413.9 L540.2 415.4 L541.0 416.9 L541.8 418.4 L542.5 419.9 L543.2 421.4 L544.0 422.9 L544.8 424.4 L545.5 426.0 L546.2 427.5 L547.0 429.0 L547.8 430.6 L548.5 432.1 L549.2 433.7 L550.0 435.2 L550.8 436.8 L551.5 438.4 L552.2 440.0 L553.0 441.6 L553.8 443.1 L554.5 444.7 L555.2 446.3 L556.0 448.0 L556.8 449.6 L557.5 451.2 L558.2 452.8 L559.0 454.4 L559.8 456.1 L560.5 457.7 L561.2 459.3 L562.0 461.0 L562.8 462.6 L563.5 464.2 L564.2 465.9 L565.0 467.5 L565.8 469.1 L566.5 470.8 L567.2 472.4 L568.0 474.0 L568.8 475.6 L569.5 477.2 L570.2 478.8 L571.0 480.3 L571.8 481.8 L572.5 483.3 L573.2 484.7 L574.0 486.2 L574.8 487.5 L575.5 488.9 L576.2 490.2 L577.0 491.5 L577.8 492.8 L578.5 494.0 L579.2 495.2 L579.2 544.8 L578.5 543.5 L577.8 542.1 L577.0 540.7 L576.2 539.2 L575.5 537.8 L574.8 536.2 L574.0 534.7 L573.2 533.1 L572.5 531.5 L571.8 529.8 L571.0 528.2 L570.2 526.5 L569.5 524.7 L568.8 523.0 L568.0 521.2 L567.2 519.3 L566.5 517.5 L565.8 515.7 L565.0 513.9 L564.2 512.1 L563.5 510.2 L562.8 508.4 L562.0 506.6 L561.2 504.7 L560.5 502.9 L559.8 501.1 L559.0 499.2 L558.2 497.4 L557.5 495.5 L556.8 493.7 L556.0 491.9 L555.2 490.1 L554.5 488.2 L553.8 486.4 L553.0 484.6 L552.2 482.8 L551.5 481.0 L550.8 479.2 L550.0 477.4 L549.2 475.7 L548.5 473.9 L547.8 472.1 L547.0 470.3 L546.2 468.6 L545.5 466.8 L544.8 465.1 L544.0 463.3 L543.2 461.5 L542.5 459.8 L541.8 458.0 L541.0 456.3 L540.2 454.5 L539.5 452.8 L538.8 451.0 L538.0 449.3 L537.2 447.6 L536.5 445.9 L535.8 444.2 L535.0 442.6 L534.2 441.0 L533.5 439.5 L532.8 438.1 L532.0 436.7 L531.2 435.2 L530.5 433.8 L529.8 432.4 L529.0 430.9 L528.2 429.3 L527.5 427.7 L526.8 426.0 L526.0 424.3 L525.2 422.5 L524.5 420.6 L523.8 418.7 L523.0 416.7 L522.2 414.6 L521.5 412.6 L520.8 410.4 L520.0 408.3 L519.2 406.1 L518.5 403.8 L517.8 401.6 L517.0 399.3 L516.2 397.1 L515.5 395.0 L514.8 393.0 L514.0 391.1 L513.2 389.4 L512.5 387.8 L511.8 386.3 L511.0 384.8 L510.2 383.4 L509.5 382.0 L508.8 380.7 L508.0 379.3 L507.2 377.9 L506.5 376.5 L505.8 375.1 L505.0 373.6 L504.2 372.2 L503.5 370.7 L502.8 369.1 L502.0 367.5 L501.2 365.8 L500.5 364.2 L499.8 362.4 L499.0 360.6 L498.2 358.8 L497.5 356.9 L496.8 354.9 L496.0 353.0 L495.2 351.0 L494.5 349.0 L493.8 347.1 L493.0 345.2 L492.2 343.5 L491.5 341.8 L490.8 340.3 L490.0 339.0 L489.2 337.7 L488.5 336.5 L487.8 335.3 L487.0 334.1 L486.2 333.0 L485.5 331.9 L484.8 330.7 L484.0 329.4 L483.2 328.1 L482.5 326.8 L481.8 325.4 L481.0 323.9 L480.2 322.4 L479.5 320.9 L478.8 319.2 L478.0 317.6 L477.2 315.9 L476.5 314.1 L475.8 312.3 L475.0 310.4 L474.2 308.6 L473.5 306.7 L472.8 304.9 L472.0 303.2 L471.2 301.5 L470.5 299.9 L469.8 298.5 L469.0 297.2 L468.2 295.9 L467.5 294.8 L466.8 293.6 L466.0 292.5 L465.2 291.4 L464.5 290.3 L463.8 289.2 L463.0 288.0 L462.2 286.8 L461.5 285.6 L460.8 284.3 L460.0 282.9 L459.2 281.5 L458.5 280.0 L457.8 278.4 L457.0 276.7 L456.2 275.0 L455.5 273.2 L454.8 271.4 L454.0 269.5 L453.2 267.7 L452.5 265.9 L451.8 264.1 L451.0 262.3 L450.2 260.6 L449.5 259.0 L448.8 257.4 L448.0 255.9 L447.2 254.5 L446.5 253.3 L445.8 252.1 L445.0 251.0 L444.2 250.0 L443.5 249.1 L442.8 248.2 L442.0 247.3 L441.2 246.4 L440.5 245.5 L439.8 244.6 L439.0 243.7 L438.2 242.6 L437.5 241.6 L436.8 240.4 L436.0 239.2 L435.2 237.9 L434.5 236.5 L433.8 235.0 L433.0 233.4 L432.2 231.7 L431.5 229.9 L430.8 228.2 L430.0 226.4 L429.2 224.7 L428.5 223.1 L427.8 221.6 L427.0 220.2 L426.2 219.0 L425.5 217.8 L424.8 216.8 L424.0 215.8 L423.2 215.0 L422.5 214.2 L421.8 213.5 L421.0 212.9 L420.2 212.3 L419.5 211.8 L418.8 211.3 L418.0 210.8 L417.2 210.2 L416.5 209.7 L415.8 209.1 L415.0 208.5 L414.2 207.7 L413.5 206.9 L412.8 206.1 L412.0 205.1 L411.2 204.1 L410.5 203.0 L409.8 201.9 L409.0 200.8 L408.2 199.6 L407.5 198.5 L406.8 197.4 L406.0 196.4 L405.2 195.4 L404.5 194.5 L403.8 193.7 L403.0 192.8 L402.2 192.1 L401.5 191.4 L400.8 190.8 L400.0 190.3 L399.2 189.8 L398.5 189.4 L397.8 189.1 L397.0 188.8 L396.2 188.6 L395.5 188.4 L394.8 188.2 L394.0 188.1 L393.2 187.9 L392.5 187.8 L391.8 187.6 L391.0 187.5 L390.2 187.3 L389.5 187.0 L388.8 186.7 L388.0 186.4 L387.2 186.0 L386.5 185.6 L385.8 185.1 L385.0 184.7 L384.2 184.2 L383.5 183.7 L382.8 183.2 L382.0 182.8 L381.2 182.3 L380.5 181.9 L379.8 181.5 L379.0 181.2 L378.2 181.0 L377.5 180.8 L376.8 180.7 L376.0 180.6 L375.2 180.6 L374.5 180.6 L373.8 180.6 L373.0 180.7 L372.2 180.7 L371.5 180.8 L370.8 180.9 L370.0 180.9 L369.2 180.9 L368.5 180.9 L367.8 180.9 L367.0 180.8 L366.2 180.6 L365.5 180.4 L364.8 180.2 L364.0 180.0 L363.2 179.7 L362.5 179.5 L361.8 179.2 L361.0 179.0 L360.2 178.7 L359.5 178.5 L358.8 178.2 L358.0 178.0 L357.2 177.9 L356.5 177.8 L355.8 177.7 L355.0 177.6 L354.2 177.7 L353.5 177.7 L352.8 177.8 L352.0 177.8 L351.2 177.9 L350.5 178.0 L349.8 178.1 L349.0 178.2 L348.2 178.3 L347.5 178.3 L346.8 178.3 L346.0 178.3 L345.2 178.3 L344.5 178.2 L343.8 178.0 L343.0 177.9 L342.2 177.7 L341.5 177.5 L340.8 177.2 L340.0 177.0 L339.2 176.8 L338.5 176.5 L337.8 176.3 L337.0 176.1 L336.2 176.0 L335.5 175.9 L334.8 175.8 L334.0 175.8 L333.2 175.8 L332.5 175.8 L331.8 175.9 L331.0 176.1 L330.2 176.2 L329.5 176.4 L328.8 176.6 L328.0 176.7 L327.2 176.9 L326.5 177.0 L325.8 177.1 L325.0 177.2 L324.2 177.2 L323.5 177.2 L322.8 177.2 L322.0 177.1 L321.2 176.9 L320.5 176.7 L319.8 176.5 L319.0 176.3 L318.2 176.1 L317.5 175.8 L316.8 175.6 L316.0 175.4 L315.2 175.2 L314.5 175.1 L313.8 175.0 L313.0 174.9 L312.2 174.9 L311.5 175.0 L310.8 175.0 L310.0 175.1 L309.2 175.3 L308.5 175.4 L307.8 175.6 L307.0 175.8 L306.2 176.0 L305.5 176.1 L304.8 176.3 L304.0 176.4 L303.2 176.4 L302.5 176.5 L301.8 176.5 L301.0 176.4 L300.2 176.3 L299.5 176.1 L298.8 176.0 L298.0 175.8 L297.2 175.5 L296.5 175.3 L295.8 175.1 L295.0 174.9 L294.2 174.7 L293.5 174.5 L292.8 174.4 L292.0 174.3 L291.2 174.3 L290.5 174.3 L289.8 174.3 L289.0 174.4 L288.2 174.5 L287.5 174.7 L286.8 174.9 L286.0 175.1 L285.2 175.2 L284.5 175.4 L283.8 175.6 L283.0 175.8 L282.2 175.9 L281.5 176.0 L280.8 176.0 L280.0 176.0 L279.2 175.9 L278.5 175.8 L277.8 175.7 L277.0 175.5 L276.2 175.3 L275.5 175.1 L274.8 174.9 L274.0 174.7 L273.2 174.5 L272.5 174.3 L271.8 174.1 L271.0 174.0 L270.2 173.9 L269.5 173.9 L268.8 173.9 L268.0 173.9 L267.2 174.0 L266.5 174.1 L265.8 174.3 L265.0 174.5 L264.2 174.7 L263.5 174.9 L262.8 175.0 L262.0 175.2 L261.2 175.4 L260.5 175.5 L259.8 175.5 L259.0 175.6 L258.2 175.6 L257.5 175.5 L256.8 175.4 L256.0 175.3 L255.2 175.1 L254.5 174.9 L253.8 174.7 L253.0 174.5 L252.2 174.3 L251.5 174.1 L250.8 173.9 L250.0 173.7 L249.2 173.6 L248.5 173.6 L247.8 173.5 L247.0 173.6 L246.2 173.6 L245.5 173.7 L244.8 173.9 L244.0 174.1 L243.2 174.2 L242.5 174.5 L241.8 174.7 L241.0 174.9 L240.2 175.1 L239.5 175.2 L238.8 175.4 L238.0 175.5 L237.2 175.5 L236.5 175.6 L235.8 175.6 L235.0 175.5 L234.2 175.4 L233.5 175.3 L232.8 175.2 L232.0 175.0 L231.2 174.9 L230.5 174.7 L229.8 174.6 L229.0 174.5 L228.2 174.4 L227.5 174.3 L226.8 174.3 L226.0 174.4 L225.2 174.5 L224.5 174.6 L223.8 174.8 L223.0 175.0 L222.2 175.2 L221.5 175.5 L220.8 175.7 L220.0 176.0 L219.2 176.3 L218.5 176.5 L217.8 176.8 L217.0 177.0 L216.2 177.2 L215.5 177.3 L214.8 177.4 L214.0 177.5 L213.2 177.5 L212.5 177.5 L211.8 177.4 L211.0 177.3 L210.2 177.2 L209.5 177.1 L208.8 177.0 L208.0 176.9 L207.2 176.8 L206.5 176.7 L205.8 176.6 L205.0 176.6 L204.2 176.6 L203.5 176.7 L202.8 176.8 L202.0 176.9 L201.2 177.0 L200.5 177.2 L199.8 177.4 L199.0 177.6 L198.2 177.9 L197.5 178.1 L196.8 178.2 L196.0 178.4 L195.2 178.5 L194.5 178.6 L193.8 178.7 L193.0 178.7 L192.2 178.7 L191.5 178.6 L190.8 178.5 L190.0 178.4 L189.2 178.2 L188.5 178.0 L187.8 177.9 L187.0 177.7 L186.2 177.5 L185.5 177.4 L184.8 177.3 L184.0 177.3 L183.2 177.2 L182.5 177.3 L181.8 177.3 L181.0 177.5 L180.2 177.6 L179.5 177.8 L178.8 178.0 L178.0 178.3 L177.2 178.5 L176.5 178.8 L175.8 179.0 L175.0 179.3 L174.2 179.5 L173.5 179.7 L172.8 179.8 L172.0 179.9 L171.2 179.9 L170.5 179.9 L169.8 179.9 L169.0 179.8 L168.2 179.7 L167.5 179.6 L166.8 179.4 L166.0 179.3 L165.2 179.1 L164.5 179.0 L163.8 178.9 L163.0 178.8 L162.2 178.8 L161.5 178.8 L160.8 178.8 L160.0 178.9 L159.2 179.0 L158.5 179.2 L157.8 179.3 L157.0 179.6 L156.2 179.8 L155.5 180.1 L154.8 180.3 L154.0 180.5 L153.2 180.7 L152.5 180.9 L151.8 181.1 L151.0 181.2 L150.2 181.3 L149.5 181.3 L148.8 181.3 L148.0 181.2 L147.2 181.1 L146.5 181.0 L145.8 180.9 L145.0 180.7 L144.2 180.6 L143.5 180.4 L142.8 180.3 L142.0 180.1 L141.2 180.1 L140.5 180.0 L139.8 180.0 L139.0 180.0 L138.2 180.1 L137.5 180.3 L136.8 180.4 L136.0 180.6 L135.2 180.8 L134.5 181.1 L133.8 181.3 L133.0 181.6 L132.2 181.8 L131.5 182.0 L130.8 182.2 L130.0 182.4 L129.2 182.5 L128.5 182.6 L127.8 182.6 L127.0 182.5 L126.2 182.5 L125.5 182.4 L124.8 182.2 L124.0 182.1 L123.2 181.9 L122.5 181.7 L121.8 181.5 L121.0 181.3 L120.2 181.2 L119.5 181.1 L118.8 181.0 L118.0 181.0 L117.2 181.0 L116.5 181.1 L115.8 181.1 L115.0 181.3 L114.2 181.5 L113.5 181.7 L112.8 181.9 L112.0 182.1 L111.2 182.3 L110.5 182.5 L109.8 182.7 L109.0 182.9 L108.2 183.0 L107.5 183.1 L106.8 183.1 L106.0 183.1 L105.2 183.1 L104.5 183.0 L103.8 182.9 L103.0 182.7 L102.2 182.5 L101.5 182.3 L100.8 182.1 L100.0 181.9Z" fill="url(#gi)" stroke="none"/>
<g stroke-width="1.6">
<use href="#e3" stroke="#f28131" stroke-opacity="0.25" transform="translate(0.3,-0.9)"/>
<use href="#e3" stroke="#5f7fa8" stroke-opacity="0.4" transform="translate(0,0.2)"/>
<use href="#e4" stroke="#f28131" stroke-opacity="0.22" transform="translate(0.3,-0.9)"/>
<use href="#e4" stroke="#5f7fa8" stroke-opacity="0.4" transform="translate(0,0.2)"/>
</g>
<path d="M193 141.3V430 M682 141.3V430" stroke="#000" stroke-width="4" stroke-dasharray="4 6.59"/>
</g>
<path d="M243.2 142.5 V169.0 M243.2 421.5 V393.9 M408.9 142.5 V169.0 M408.9 421.5 V393.9 M574.2 142.5 V169.0 M574.2 421.5 V393.9 M121.5 240.0 H148.0 M698.5 240.0 H670.9 M121.5 340.0 H148.0 M698.5 340.0 H670.9" stroke="#000" stroke-width="4" fill="none"/>
<g clip-path="url(#ax)" fill="none" stroke-linejoin="round">
<path d="M332.9 440.0 L672.0 130.0" stroke="#e73178" stroke-width="4"/>
<path d="M100.0 165.7 L100.8 165.8 L101.5 165.8 L102.2 165.8 L103.0 165.9 L103.8 165.9 L104.5 165.9 L105.2 165.9 L106.0 165.9 L106.8 165.9 L107.5 165.8 L108.2 165.8 L109.0 165.8 L109.8 165.8 L110.5 165.7 L111.2 165.7 L112.0 165.7 L112.8 165.7 L113.5 165.7 L114.2 165.7 L115.0 165.6 L115.8 165.6 L116.5 165.6 L117.2 165.6 L118.0 165.6 L118.8 165.7 L119.5 165.7 L120.2 165.7 L121.0 165.7 L121.8 165.7 L122.5 165.8 L123.2 165.8 L124.0 165.8 L124.8 165.9 L125.5 165.9 L126.2 165.9 L127.0 165.9 L127.8 166.0 L128.5 166.0 L129.2 166.0 L130.0 166.0 L130.8 166.0 L131.5 165.9 L132.2 165.9 L133.0 165.9 L133.8 165.9 L134.5 165.9 L135.2 165.9 L136.0 165.8 L136.8 165.8 L137.5 165.8 L138.2 165.8 L139.0 165.8 L139.8 165.8 L140.5 165.9 L141.2 165.9 L142.0 165.9 L142.8 165.9 L143.5 166.0 L144.2 166.0 L145.0 166.1 L145.8 166.1 L146.5 166.1 L147.2 166.2 L148.0 166.2 L148.8 166.2 L149.5 166.3 L150.2 166.3 L151.0 166.3 L151.8 166.3 L152.5 166.3 L153.2 166.3 L154.0 166.3 L154.8 166.3 L155.5 166.3 L156.2 166.3 L157.0 166.3 L157.8 166.4 L158.5 166.4 L159.2 166.4 L160.0 166.4 L160.8 166.4 L161.5 166.5 L162.2 166.5 L163.0 166.5 L163.8 166.6 L164.5 166.6 L165.2 166.7 L166.0 166.7 L166.8 166.8 L167.5 166.9 L168.2 166.9 L169.0 167.0 L169.8 167.0 L170.5 167.1 L171.2 167.1 L172.0 167.1 L172.8 167.2 L173.5 167.2 L174.2 167.2 L175.0 167.2 L175.8 167.2 L176.5 167.2 L177.2 167.2 L178.0 167.2 L178.8 167.3 L179.5 167.3 L180.2 167.3 L181.0 167.3 L181.8 167.3 L182.5 167.3 L183.2 167.4 L184.0 167.4 L184.8 167.5 L185.5 167.5 L186.2 167.6 L187.0 167.6 L187.8 167.7 L188.5 167.7 L189.2 167.8 L190.0 167.8 L190.8 167.8 L191.5 167.9 L192.2 167.9 L193.0 168.0 L193.8 168.0 L194.5 168.0 L195.2 168.0 L196.0 168.0 L196.8 168.0 L197.5 168.0 L198.2 168.0 L199.0 168.0 L199.8 168.0 L200.5 168.0 L201.2 168.0 L202.0 168.0 L202.8 168.0 L203.5 168.0 L204.2 168.0 L205.0 168.1 L205.8 168.1 L206.5 168.1 L207.2 168.2 L208.0 168.2 L208.8 168.2 L209.5 168.3 L210.2 168.3 L211.0 168.4 L211.8 168.4 L212.5 168.5 L213.2 168.5 L214.0 168.6 L214.8 168.6 L215.5 168.6 L216.2 168.7 L217.0 168.7 L217.8 168.7 L218.5 168.7 L219.2 168.7 L220.0 168.7 L220.8 168.7 L221.5 168.7 L222.2 168.7 L223.0 168.7 L223.8 168.8 L224.5 168.8 L225.2 168.8 L226.0 168.8 L226.8 168.8 L227.5 168.9 L228.2 168.9 L229.0 169.0 L229.8 169.0 L230.5 169.1 L231.2 169.1 L232.0 169.2 L232.8 169.2 L233.5 169.3 L234.2 169.3 L235.0 169.4 L235.8 169.4 L236.5 169.4 L237.2 169.5 L238.0 169.5 L238.8 169.5 L239.5 169.5 L240.2 169.5 L241.0 169.5 L241.8 169.5 L242.5 169.5 L243.2 169.5 L244.0 169.5 L244.8 169.5 L245.5 169.5 L246.2 169.5 L247.0 169.5 L247.8 169.5 L248.5 169.6 L249.2 169.6 L250.0 169.6 L250.8 169.7 L251.5 169.7 L252.2 169.8 L253.0 169.8 L253.8 169.9 L254.5 169.9 L255.2 170.0 L256.0 170.0 L256.8 170.1 L257.5 170.1 L258.2 170.1 L259.0 170.2 L259.8 170.2 L260.5 170.2 L261.2 170.2 L262.0 170.2 L262.8 170.2 L263.5 170.2 L264.2 170.2 L265.0 170.2 L265.8 170.2 L266.5 170.3 L267.2 170.3 L268.0 170.3 L268.8 170.3 L269.5 170.3 L270.2 170.4 L271.0 170.4 L271.8 170.4 L272.5 170.5 L273.2 170.5 L274.0 170.6 L274.8 170.6 L275.5 170.7 L276.2 170.7 L277.0 170.8 L277.8 170.8 L278.5 170.9 L279.2 170.9 L280.0 170.9 L280.8 171.0 L281.5 171.0 L282.2 171.0 L283.0 171.0 L283.8 171.0 L284.5 171.0 L285.2 171.0 L286.0 171.0 L286.8 171.0 L287.5 171.0 L288.2 171.0 L289.0 171.1 L289.8 171.1 L290.5 171.1 L291.2 171.1 L292.0 171.2 L292.8 171.2 L293.5 171.2 L294.2 171.3 L295.0 171.3 L295.8 171.4 L296.5 171.5 L297.2 171.5 L298.0 171.6 L298.8 171.6 L299.5 171.7 L300.2 171.7 L301.0 171.8 L301.8 171.8 L302.5 171.8 L303.2 171.9 L304.0 171.9 L304.8 171.9 L305.5 171.9 L306.2 172.0 L307.0 172.0 L307.8 172.0 L308.5 172.0 L309.2 172.0 L310.0 172.0 L310.8 172.1 L311.5 172.1 L312.2 172.1 L313.0 172.2 L313.8 172.2 L314.5 172.3 L315.2 172.3 L316.0 172.4 L316.8 172.5 L317.5 172.5 L318.2 172.6 L319.0 172.7 L319.8 172.7 L320.5 172.8 L321.2 172.9 L322.0 172.9 L322.8 173.0 L323.5 173.1 L324.2 173.1 L325.0 173.1 L325.8 173.2 L326.5 173.2 L327.2 173.2 L328.0 173.3 L328.8 173.3 L329.5 173.3 L330.2 173.4 L331.0 173.4 L331.8 173.4 L332.5 173.5 L333.2 173.5 L334.0 173.5 L334.8 173.6 L335.5 173.7 L336.2 173.7 L337.0 173.8 L337.8 173.9 L338.5 174.0 L339.2 174.0 L340.0 174.1 L340.8 174.2 L341.5 174.3 L342.2 174.4 L343.0 174.5 L343.8 174.6 L344.5 174.6 L345.2 174.7 L346.0 174.8 L346.8 174.9 L347.5 174.9 L348.2 175.0 L349.0 175.0 L349.8 175.1 L350.5 175.1 L351.2 175.2 L352.0 175.2 L352.8 175.3 L353.5 175.4 L354.2 175.4 L355.0 175.5 L355.8 175.6 L356.5 175.7 L357.2 175.8 L358.0 175.9 L358.8 176.0 L359.5 176.1 L360.2 176.2 L361.0 176.3 L361.8 176.4 L362.5 176.6 L363.2 176.7 L364.0 176.8 L364.8 176.9 L365.5 177.0 L366.2 177.1 L367.0 177.2 L367.8 177.4 L368.5 177.5 L369.2 177.6 L370.0 177.7 L370.8 177.8 L371.5 177.9 L372.2 178.0 L373.0 178.1 L373.8 178.2 L374.5 178.3 L375.2 178.4 L376.0 178.6 L376.8 178.7 L377.5 178.9 L378.2 179.1 L379.0 179.3 L379.8 179.5 L380.5 179.7 L381.2 180.0 L382.0 180.2 L382.8 180.5 L383.5 180.8 L384.2 181.1 L385.0 181.4 L385.8 181.6 L386.5 182.0 L387.2 182.3 L388.0 182.6 L388.8 182.9 L389.5 183.2 L390.2 183.5 L391.0 183.8 L391.8 184.1 L392.5 184.4 L393.2 184.7 L394.0 185.0 L394.8 185.3 L395.5 185.7 L396.2 186.0 L397.0 186.4 L397.8 186.7 L398.5 187.1 L399.2 187.6 L400.0 188.1 L400.8 188.6 L401.5 189.1 L402.2 189.7 L403.0 190.4 L403.8 191.0 L404.5 191.7 L405.2 192.5 L406.0 193.2 L406.8 194.0 L407.5 194.8 L408.2 195.7 L409.0 196.5 L409.8 197.4 L410.5 198.2 L411.2 199.1 L412.0 199.9 L412.8 200.8 L413.5 201.6 L414.2 202.5 L415.0 203.3 L415.8 204.1 L416.5 204.9 L417.2 205.6 L418.0 206.4 L418.8 207.2 L419.5 208.0 L420.2 208.9 L421.0 209.7 L421.8 210.6 L422.5 211.5 L423.2 212.4 L424.0 213.4 L424.8 214.4 L425.5 215.4 L426.2 216.5 L427.0 217.6 L427.8 218.7 L428.5 219.8 L429.2 221.0 L430.0 222.2 L430.8 223.5 L431.5 224.8 L432.2 226.1 L433.0 227.4 L433.8 228.7 L434.5 230.0 L435.2 231.3 L436.0 232.5 L436.8 233.8 L437.5 235.0 L438.2 236.3 L439.0 237.5 L439.8 238.8 L440.5 240.0 L441.2 241.2 L442.0 242.5 L442.8 243.7 L443.5 244.9 L444.2 246.1 L445.0 247.3 L445.8 248.5 L446.5 249.7 L447.2 251.0 L448.0 252.3 L448.8 253.6 L449.5 255.0 L450.2 256.3 L451.0 257.8 L451.8 259.2 L452.5 260.7 L453.2 262.1 L454.0 263.6 L454.8 265.1 L455.5 266.7 L456.2 268.2 L457.0 269.7 L457.8 271.2 L458.5 272.7 L459.2 274.2 L460.0 275.7 L460.8 277.2 L461.5 278.6 L462.2 280.0 L463.0 281.5 L463.8 282.9 L464.5 284.3 L465.2 285.7 L466.0 287.1 L466.8 288.5 L467.5 289.8 L468.2 291.2 L469.0 292.6 L469.8 294.0 L470.5 295.4 L471.2 296.8 L472.0 298.3 L472.8 299.7 L473.5 301.2 L474.2 302.6 L475.0 304.1 L475.8 305.6 L476.5 307.1 L477.2 308.6 L478.0 310.1 L478.8 311.5 L479.5 313.0 L480.2 314.5 L481.0 315.9 L481.8 317.4 L482.5 318.8 L483.2 320.2 L484.0 321.7 L484.8 323.1 L485.5 324.5 L486.2 325.9 L487.0 327.3 L487.8 328.7 L488.5 330.1 L489.2 331.5 L490.0 332.9 L490.8 334.4 L491.5 335.8 L492.2 337.2 L493.0 338.7 L493.8 340.1 L494.5 341.6 L495.2 343.1 L496.0 344.7 L496.8 346.2 L497.5 347.7 L498.2 349.2 L499.0 350.8 L499.8 352.3 L500.5 353.8 L501.2 355.3 L502.0 356.8 L502.8 358.3 L503.5 359.8 L504.2 361.3 L505.0 362.8 L505.8 364.2 L506.5 365.7 L507.2 367.2 L508.0 368.6 L508.8 370.1 L509.5 371.6 L510.2 373.0 L511.0 374.5 L511.8 376.0 L512.5 377.5 L513.2 379.1 L514.0 380.6 L514.8 382.2 L515.5 383.9 L516.2 385.5 L517.0 387.2 L517.8 388.9 L518.5 390.7 L519.2 392.4 L520.0 394.2 L520.8 395.9 L521.5 397.7 L522.2 399.4 L523.0 401.2 L523.8 402.9 L524.5 404.6 L525.2 406.4 L526.0 408.1 L526.8 409.8 L527.5 411.5 L528.2 413.1 L529.0 414.7 L529.8 416.4 L530.5 417.9 L531.2 419.5 L532.0 421.0 L532.8 422.5 L533.5 424.0 L534.2 425.5 L535.0 427.0 L535.8 428.5 L536.5 429.9 L537.2 431.4 L538.0 432.9 L538.8 434.4 L539.5 435.9 L540.2 437.5 L541.0 439.0 L541.8 440.6 L542.5 442.1 L543.2 443.7 L544.0 445.3 L544.8 446.9 L545.5 448.6 L546.2 450.2 L547.0 451.9 L547.8 453.6 L548.5 455.2 L549.2 456.9 L550.0 458.6 L550.8 460.3 L551.5 462.0 L552.2 463.7 L553.0 465.4 L553.8 467.1 L554.5 468.8 L555.2 470.5 L556.0 472.3 L556.8 474.0 L557.5 475.7 L558.2 477.4 L559.0 479.1 L559.8 480.9 L560.5 482.6 L561.2 484.3 L562.0 486.1 L562.8 487.8 L563.5 489.5 L564.2 491.3 L565.0 493.0 L565.8 494.7 L566.5 496.5 L567.2 498.2 L568.0 499.9 L568.8 501.6 L569.5 503.3 L570.2 505.0 L571.0 506.6 L571.8 508.2 L572.5 509.7 L573.2 511.2 L574.0 512.6 L574.8 514.0 L575.5 515.3 L576.2 516.5 L577.0 517.7 L577.8 518.8 L578.5 519.9 L579.2 520.9" stroke="#f28131" stroke-width="4.2"/>
<path d="M100.0 165.8 L100.8 166.0 L101.5 166.3 L102.2 166.6 L103.0 166.8 L103.8 167.0 L104.5 167.2 L105.2 167.3 L106.0 167.4 L106.8 167.5 L107.5 167.4 L108.2 167.3 L109.0 167.2 L109.8 167.0 L110.5 166.8 L111.2 166.6 L112.0 166.3 L112.8 166.1 L113.5 165.8 L114.2 165.6 L115.0 165.4 L115.8 165.3 L116.5 165.2 L117.2 165.2 L118.0 165.2 L118.8 165.2 L119.5 165.4 L120.2 165.5 L121.0 165.7 L121.8 166.0 L122.5 166.3 L123.2 166.5 L124.0 166.8 L124.8 167.0 L125.5 167.2 L126.2 167.4 L127.0 167.5 L127.8 167.6 L128.5 167.6 L129.2 167.6 L130.0 167.5 L130.8 167.4 L131.5 167.2 L132.2 167.0 L133.0 166.7 L133.8 166.5 L134.5 166.2 L135.2 166.0 L136.0 165.8 L136.8 165.6 L137.5 165.5 L138.2 165.4 L139.0 165.3 L139.8 165.4 L140.5 165.4 L141.2 165.6 L142.0 165.7 L142.8 166.0 L143.5 166.2 L144.2 166.5 L145.0 166.7 L145.8 167.0 L146.5 167.3 L147.2 167.5 L148.0 167.7 L148.8 167.8 L149.5 167.9 L150.2 167.9 L151.0 167.9 L151.8 167.9 L152.5 167.7 L153.2 167.6 L154.0 167.4 L154.8 167.2 L155.5 166.9 L156.2 166.7 L157.0 166.5 L157.8 166.3 L158.5 166.1 L159.2 166.0 L160.0 165.9 L160.8 165.9 L161.5 166.0 L162.2 166.1 L163.0 166.2 L163.8 166.4 L164.5 166.7 L165.2 166.9 L166.0 167.2 L166.8 167.5 L167.5 167.8 L168.2 168.1 L169.0 168.3 L169.8 168.5 L170.5 168.7 L171.2 168.8 L172.0 168.8 L172.8 168.8 L173.5 168.7 L174.2 168.6 L175.0 168.5 L175.8 168.3 L176.5 168.1 L177.2 167.8 L178.0 167.6 L178.8 167.4 L179.5 167.2 L180.2 167.1 L181.0 167.0 L181.8 166.9 L182.5 166.9 L183.2 166.9 L184.0 167.0 L184.8 167.2 L185.5 167.4 L186.2 167.6 L187.0 167.9 L187.8 168.2 L188.5 168.5 L189.2 168.7 L190.0 169.0 L190.8 169.2 L191.5 169.4 L192.2 169.6 L193.0 169.6 L193.8 169.7 L194.5 169.6 L195.2 169.6 L196.0 169.4 L196.8 169.2 L197.5 169.0 L198.2 168.8 L199.0 168.6 L199.8 168.3 L200.5 168.1 L201.2 167.9 L202.0 167.7 L202.8 167.6 L203.5 167.5 L204.2 167.5 L205.0 167.6 L205.8 167.7 L206.5 167.8 L207.2 168.0 L208.0 168.3 L208.8 168.5 L209.5 168.8 L210.2 169.1 L211.0 169.4 L211.8 169.6 L212.5 169.8 L213.2 170.0 L214.0 170.2 L214.8 170.3 L215.5 170.3 L216.2 170.3 L217.0 170.2 L217.8 170.1 L218.5 169.9 L219.2 169.7 L220.0 169.5 L220.8 169.3 L221.5 169.1 L222.2 168.8 L223.0 168.7 L223.8 168.5 L224.5 168.4 L225.2 168.3 L226.0 168.3 L226.8 168.4 L227.5 168.5 L228.2 168.7 L229.0 168.9 L229.8 169.1 L230.5 169.4 L231.2 169.7 L232.0 170.0 L232.8 170.2 L233.5 170.5 L234.2 170.7 L235.0 170.9 L235.8 171.0 L236.5 171.1 L237.2 171.1 L238.0 171.1 L238.8 171.0 L239.5 170.9 L240.2 170.7 L241.0 170.5 L241.8 170.3 L242.5 170.0 L243.2 169.8 L244.0 169.6 L244.8 169.4 L245.5 169.2 L246.2 169.1 L247.0 169.1 L247.8 169.1 L248.5 169.1 L249.2 169.2 L250.0 169.4 L250.8 169.6 L251.5 169.8 L252.2 170.1 L253.0 170.4 L253.8 170.7 L254.5 170.9 L255.2 171.2 L256.0 171.4 L256.8 171.6 L257.5 171.7 L258.2 171.8 L259.0 171.8 L259.8 171.8 L260.5 171.7 L261.2 171.6 L262.0 171.4 L262.8 171.2 L263.5 171.0 L264.2 170.8 L265.0 170.5 L265.8 170.3 L266.5 170.1 L267.2 170.0 L268.0 169.9 L268.8 169.8 L269.5 169.8 L270.2 169.9 L271.0 170.0 L271.8 170.2 L272.5 170.4 L273.2 170.6 L274.0 170.9 L274.8 171.2 L275.5 171.5 L276.2 171.8 L277.0 172.0 L277.8 172.2 L278.5 172.4 L279.2 172.5 L280.0 172.6 L280.8 172.6 L281.5 172.6 L282.2 172.5 L283.0 172.4 L283.8 172.2 L284.5 172.0 L285.2 171.8 L286.0 171.5 L286.8 171.3 L287.5 171.1 L288.2 170.9 L289.0 170.8 L289.8 170.7 L290.5 170.6 L291.2 170.6 L292.0 170.7 L292.8 170.8 L293.5 171.0 L294.2 171.2 L295.0 171.4 L295.8 171.7 L296.5 172.0 L297.2 172.3 L298.0 172.6 L298.8 172.8 L299.5 173.1 L300.2 173.2 L301.0 173.4 L301.8 173.5 L302.5 173.5 L303.2 173.5 L304.0 173.4 L304.8 173.3 L305.5 173.1 L306.2 172.9 L307.0 172.7 L307.8 172.5 L308.5 172.3 L309.2 172.1 L310.0 171.9 L310.8 171.8 L311.5 171.7 L312.2 171.7 L313.0 171.7 L313.8 171.8 L314.5 171.9 L315.2 172.1 L316.0 172.3 L316.8 172.6 L317.5 172.9 L318.2 173.2 L319.0 173.5 L319.8 173.8 L320.5 174.0 L321.2 174.3 L322.0 174.5 L322.8 174.6 L323.5 174.7 L324.2 174.8 L325.0 174.7 L325.8 174.7 L326.5 174.6 L327.2 174.4 L328.0 174.2 L328.8 174.0 L329.5 173.8 L330.2 173.6 L331.0 173.4 L331.8 173.3 L332.5 173.2 L333.2 173.1 L334.0 173.1 L334.8 173.1 L335.5 173.2 L336.2 173.4 L337.0 173.6 L337.8 173.8 L338.5 174.1 L339.2 174.4 L340.0 174.7 L340.8 175.0 L341.5 175.3 L342.2 175.6 L343.0 175.9 L343.8 176.1 L344.5 176.3 L345.2 176.4 L346.0 176.5 L346.8 176.5 L347.5 176.5 L348.2 176.4 L349.0 176.3 L349.8 176.1 L350.5 175.9 L351.2 175.7 L352.0 175.5 L352.8 175.4 L353.5 175.2 L354.2 175.1 L355.0 175.0 L355.8 175.0 L356.5 175.1 L357.2 175.2 L358.0 175.4 L358.8 175.7 L359.5 176.0 L360.2 176.3 L361.0 176.7 L361.8 177.1 L362.5 177.5 L363.2 177.8 L364.0 178.2 L364.8 178.5 L365.5 178.8 L366.2 179.0 L367.0 179.2 L367.8 179.3 L368.5 179.3 L369.2 179.3 L370.0 179.2 L370.8 179.0 L371.5 178.8 L372.2 178.6 L373.0 178.4 L373.8 178.2 L374.5 178.1 L375.2 178.0 L376.0 177.9 L376.8 177.9 L377.5 178.0 L378.2 178.1 L379.0 178.4 L379.8 178.8 L380.5 179.2 L381.2 179.7 L382.0 180.3 L382.8 180.9 L383.5 181.6 L384.2 182.2 L385.0 182.8 L385.8 183.4 L386.5 184.0 L387.2 184.5 L388.0 185.0 L388.8 185.3 L389.5 185.6 L390.2 185.8 L391.0 185.9 L391.8 186.0 L392.5 186.0 L393.2 186.0 L394.0 186.0 L394.8 186.0 L395.5 186.0 L396.2 186.1 L397.0 186.2 L397.8 186.3 L398.5 186.5 L399.2 186.8 L400.0 187.2 L400.8 187.7 L401.5 188.3 L402.2 189.0 L403.0 189.8 L403.8 190.7 L404.5 191.6 L405.2 192.6 L406.0 193.8 L406.8 195.0 L407.5 196.2 L408.2 197.5 L409.0 198.9 L409.8 200.2 L410.5 201.5 L411.2 202.8 L412.0 204.0 L412.8 205.0 L413.5 206.0 L414.2 206.8 L415.0 207.4 L415.8 208.0 L416.5 208.4 L417.2 208.7 L418.0 209.0 L418.8 209.3 L419.5 209.6 L420.2 209.9 L421.0 210.2 L421.8 210.6 L422.5 211.0 L423.2 211.6 L424.0 212.3 L424.8 213.1 L425.5 214.1 L426.2 215.3 L427.0 216.6 L427.8 218.1 L428.5 219.8 L429.2 221.7 L430.0 223.7 L430.8 225.9 L431.5 228.0 L432.2 230.1 L433.0 232.1 L433.8 234.0 L434.5 235.6 L435.2 237.1 L436.0 238.4 L436.8 239.6 L437.5 240.6 L438.2 241.5 L439.0 242.3 L439.8 243.0 L440.5 243.7 L441.2 244.3 L442.0 244.8 L442.8 245.4 L443.5 246.1 L444.2 246.8 L445.0 247.5 L445.8 248.4 L446.5 249.5 L447.2 250.7 L448.0 252.1 L448.8 253.6 L449.5 255.3 L450.2 257.1 L451.0 259.0 L451.8 260.9 L452.5 263.0 L453.2 265.0 L454.0 267.1 L454.8 269.1 L455.5 271.1 L456.2 273.1 L457.0 274.9 L457.8 276.7 L458.5 278.4 L459.2 279.9 L460.0 281.3 L460.8 282.6 L461.5 283.8 L462.2 284.9 L463.0 285.9 L463.8 286.8 L464.5 287.7 L465.2 288.5 L466.0 289.4 L466.8 290.2 L467.5 291.1 L468.2 292.0 L469.0 293.1 L469.8 294.3 L470.5 295.7 L471.2 297.3 L472.0 299.1 L472.8 301.0 L473.5 303.0 L474.2 305.1 L475.0 307.1 L475.8 309.2 L476.5 311.2 L477.2 313.1 L478.0 314.9 L478.8 316.7 L479.5 318.3 L480.2 319.9 L481.0 321.4 L481.8 322.7 L482.5 324.0 L483.2 325.2 L484.0 326.3 L484.8 327.2 L485.5 328.1 L486.2 328.9 L487.0 329.7 L487.8 330.6 L488.5 331.4 L489.2 332.4 L490.0 333.4 L490.8 334.6 L491.5 336.0 L492.2 337.6 L493.0 339.4 L493.8 341.3 L494.5 343.4 L495.2 345.5 L496.0 347.7 L496.8 349.8 L497.5 351.8 L498.2 353.8 L499.0 355.6 L499.8 357.4 L500.5 359.0 L501.2 360.6 L502.0 362.1 L502.8 363.5 L503.5 364.8 L504.2 366.1 L505.0 367.3 L505.8 368.4 L506.5 369.5 L507.2 370.6 L508.0 371.6 L508.8 372.6 L509.5 373.6 L510.2 374.6 L511.0 375.6 L511.8 376.7 L512.5 377.9 L513.2 379.3 L514.0 380.8 L514.8 382.6 L515.5 384.6 L516.2 386.8 L517.0 389.1 L517.8 391.5 L518.5 393.8 L519.2 396.2 L520.0 398.4 L520.8 400.6 L521.5 402.8 L522.2 404.9 L523.0 406.9 L523.8 408.7 L524.5 410.6 L525.2 412.3 L526.0 413.9 L526.8 415.4 L527.5 416.8 L528.2 418.2 L529.0 419.4 L529.8 420.6 L530.5 421.7 L531.2 422.8 L532.0 423.9 L532.8 425.0 L533.5 426.2 L534.2 427.4 L535.0 428.8 L535.8 430.3 L536.5 431.8 L537.2 433.4 L538.0 435.1 L538.8 436.8 L539.5 438.5 L540.2 440.3 L541.0 442.0 L541.8 443.7 L542.5 445.4 L543.2 447.1 L544.0 448.8 L544.8 450.4 L545.5 452.1 L546.2 453.7 L547.0 455.4 L547.8 457.0 L548.5 458.7 L549.2 460.3 L550.0 462.0 L550.8 463.7 L551.5 465.4 L552.2 467.1 L553.0 468.8 L553.8 470.5 L554.5 472.2 L555.2 473.9 L556.0 475.7 L556.8 477.4 L557.5 479.2 L558.2 480.9 L559.0 482.7 L559.8 484.4 L560.5 486.2 L561.2 487.9 L562.0 489.7 L562.8 491.4 L563.5 493.2 L564.2 494.9 L565.0 496.7 L565.8 498.4 L566.5 500.2 L567.2 501.9 L568.0 503.7 L568.8 505.4 L569.5 507.1 L570.2 508.8 L571.0 510.5 L571.8 512.2 L572.5 513.9 L573.2 515.6 L574.0 517.2 L574.8 518.9 L575.5 520.5 L576.2 522.1 L577.0 523.7 L577.8 525.3 L578.5 526.9 L579.2 528.5" stroke="#3f77b0" stroke-width="4.5"/>
</g>
<rect x="121.5" y="142.5" width="577.0" height="279.0" fill="none" stroke="#000" stroke-width="3"/>
</svg>
<div class="t title"><span style="left:225.1px;transform:scaleX(1.093)">N</span><span style="left:265px;transform:scaleX(1.003)">G</span><span style="left:304.9px;transform:scaleX(0.935)">C</span> <span style="left:356.4px;transform:scaleX(1.167)">7</span><span style="left:390.8px;transform:scaleX(1.096)">4</span><span style="left:423.2px;transform:scaleX(1.186)">6</span><span style="left:457.3px;transform:scaleX(1.163)">9</span></div>
<div class="t tick" style="left:21.2px;top:220px;">10<sup><span class="m">&minus;</span>3</sup></div>
<div class="t tick" style="left:21.2px;top:320px;">10<sup><span class="m">&minus;</span>5</sup></div>
<div class="t tick" style="left:199.3px;top:426px;">10<sup><span class="m">&minus;</span>3</sup></div>
<div class="t tick" style="left:376.2px;top:426px;">10<sup>0</sup></div>
<div class="t tick" style="left:541.2px;top:426px;">10<sup>3</sup></div>
<div class="t xl">Frequency (<i>d</i><sup><span class="m">&minus;</span>1</sup>)</div>
</body>
</html>
